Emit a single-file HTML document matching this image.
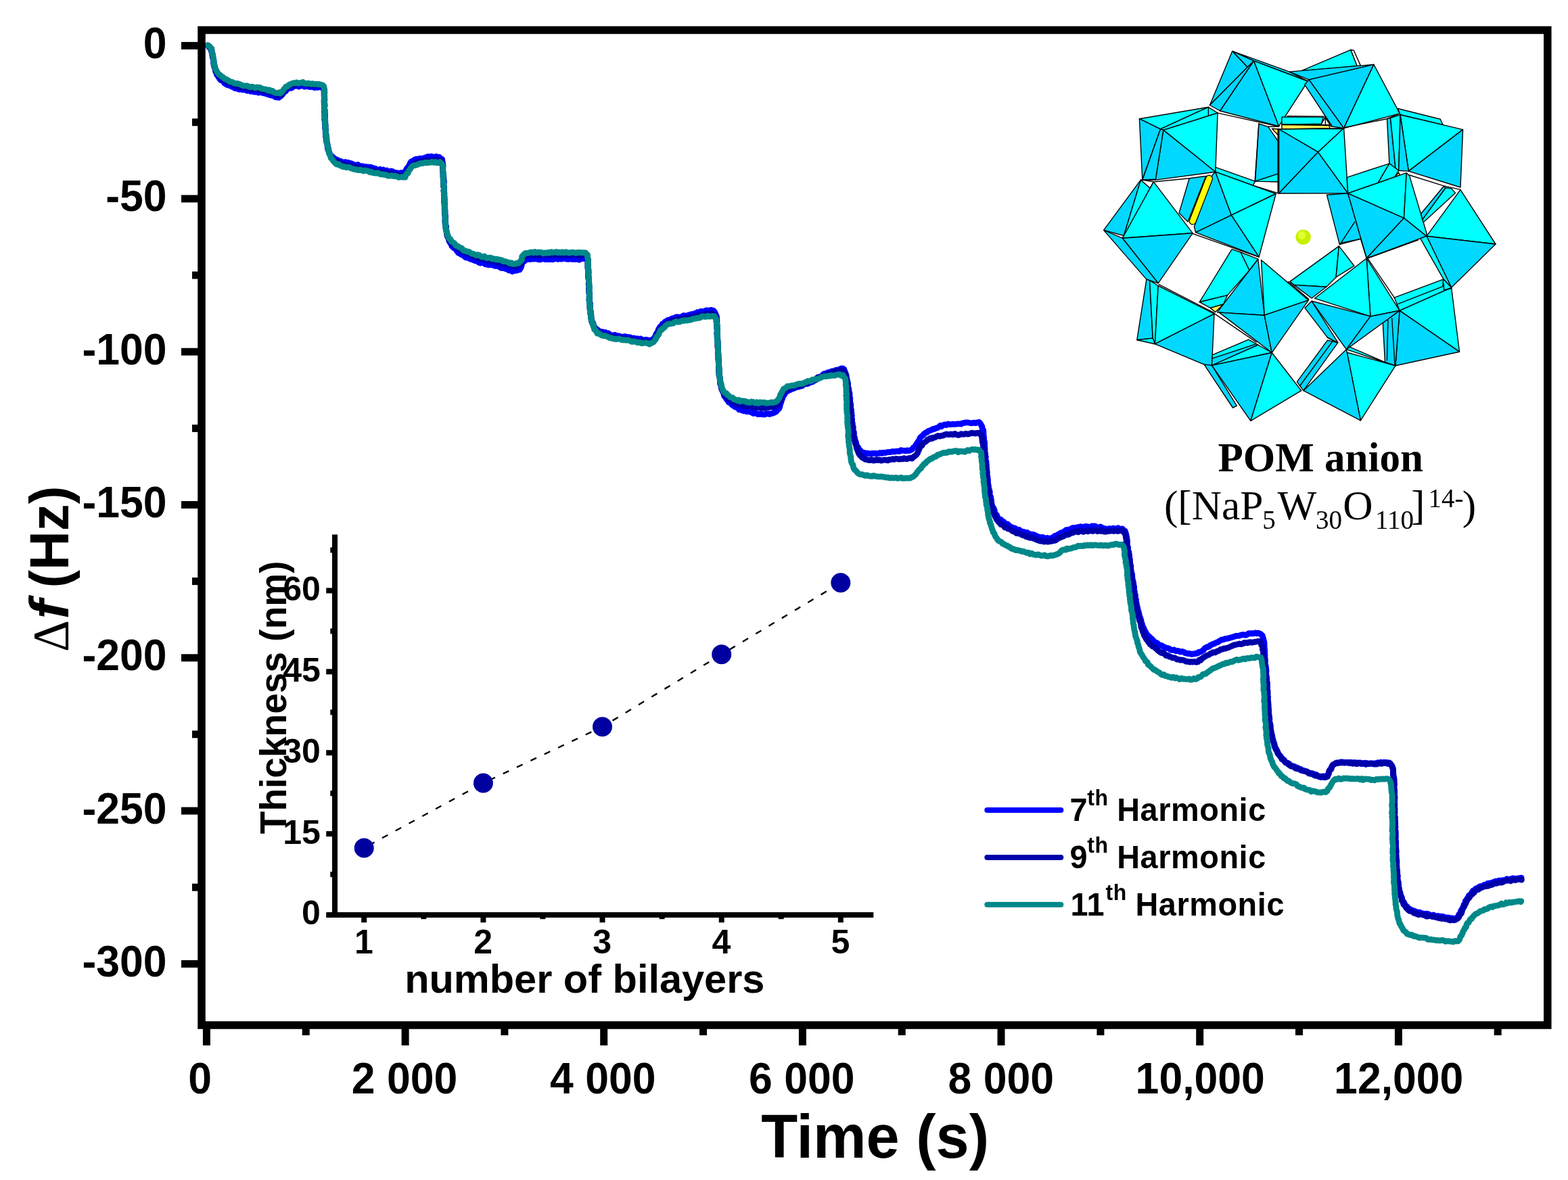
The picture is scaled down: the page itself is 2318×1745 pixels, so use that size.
<!DOCTYPE html>
<html lang="en"><head><meta charset="utf-8"><title>QCM frequency shift</title>
<style>html,body{margin:0;padding:0;background:#fff}body{width:2318px;height:1745px;overflow:hidden}svg{display:block}text{font-family:"Liberation Sans", sans-serif;font-weight:bold;fill:#000}.ser{font-family:"Liberation Serif", serif;font-weight:normal}.serb{font-family:"Liberation Serif", serif;font-weight:bold}</style>
</head><body>
<svg width="2318" height="1745" viewBox="0 0 2318 1745">
<rect width="2318" height="1745" fill="#fff"/>
<g fill="none" stroke-width="8.8" stroke-linejoin="round" stroke-linecap="round">
<path stroke="#0000ff" d="M307.0 67.0L309.2 68.4L310.7 70.7L311.5 73.0L312.3 75.1L312.9 76.7L313.6 80.6L313.7 81.7L314.7 85.5L315.0 86.8L315.8 88.5L316.1 91.3L315.7 93.4L316.3 97.1L316.8 99.0L317.8 100.9L318.3 102.6L318.5 105.2L319.9 107.9L320.5 110.4L321.8 111.9L323.5 114.7L324.5 116.3L326.4 118.6L328.4 119.1L330.5 120.3L331.8 123.1L333.5 123.9L335.5 125.4L338.4 126.3L340.7 126.8L342.7 128.2L344.9 128.8L347.4 130.5L349.3 130.6L351.2 131.3L354.2 132.4L356.7 131.5L358.6 132.8L360.6 132.9L363.1 132.6L365.3 134.3L367.8 133.6L370.4 135.2L372.5 134.7L375.3 135.9L378.0 136.2L379.8 135.7L382.3 137.1L385.2 136.1L386.8 136.8L389.2 137.8L391.8 137.9L393.6 138.8L396.3 139.7L399.2 140.5L401.1 141.1L403.5 140.7L406.0 143.0L408.2 143.8L410.1 143.6L412.2 144.3L414.4 142.5L416.3 141.1L418.0 139.0L419.0 137.2L420.5 135.7L422.1 135.0L424.5 132.0L426.1 131.0L428.3 129.4L431.0 130.3L432.9 128.6L434.9 127.3L437.5 127.2L440.4 126.7L442.0 128.1L444.9 126.4L447.3 126.1L449.7 128.1L452.4 127.8L454.2 127.3L456.5 128.4L459.2 128.7L461.4 127.8L464.3 129.5L466.7 129.3L469.1 129.3L470.9 129.1L473.4 128.4L475.4 129.1L477.8 130.8L479.4 132.5L479.7 136.0L479.8 137.1L479.2 139.2L479.1 141.6L479.5 145.4L479.8 146.9L479.6 150.0L479.1 152.1L480.0 154.7L480.0 156.5L479.5 159.6L479.7 162.0L480.4 163.6L479.9 167.1L480.3 167.9L479.7 170.3L480.6 174.0L479.9 176.4L480.8 178.5L480.3 180.7L480.2 182.0L481.2 185.7L480.9 188.6L481.0 190.9L481.6 192.0L481.2 194.5L481.4 197.5L481.6 199.5L481.7 202.9L482.2 204.4L482.8 207.7L482.9 210.1L483.4 211.7L483.8 213.0L484.2 215.7L484.2 219.3L484.9 221.0L486.2 223.4L486.6 225.6L488.0 228.3L488.9 229.8L490.6 231.0L492.9 233.1L494.6 235.0L497.0 235.6L498.9 236.7L501.1 237.9L503.3 238.3L505.6 239.8L508.2 240.3L510.8 239.6L512.7 241.5L515.3 240.4L517.0 241.5L519.3 241.7L521.6 243.0L524.7 244.0L526.4 244.2L529.2 243.5L531.8 245.7L533.5 246.1L536.0 245.7L538.9 246.9L540.5 246.5L543.2 246.8L545.2 247.2L548.1 247.1L550.3 248.4L552.1 248.6L555.1 249.5L556.9 250.8L559.9 251.2L561.6 250.3L563.9 251.7L566.5 250.9L569.0 252.9L571.8 252.0L573.5 253.7L576.3 253.7L578.2 252.8L581.1 253.9L582.9 255.3L585.8 255.4L587.6 255.8L590.0 256.2L592.7 255.5L595.2 257.0L597.3 254.9L599.3 253.5L600.2 251.3L601.3 249.3L602.8 247.5L604.6 245.4L605.5 243.1L606.6 240.8L608.0 238.9L610.2 238.3L611.7 236.9L614.7 235.3L616.9 235.2L618.9 235.4L621.1 234.3L623.8 234.8L625.8 234.0L628.5 233.2L630.6 232.3L632.6 231.5L635.0 232.5L637.6 231.1L639.8 232.4L643.0 232.1L644.8 231.4L647.2 232.0L649.4 232.4L651.6 234.6L653.7 235.7L653.9 238.7L654.4 239.9L654.3 242.3L655.0 244.9L654.7 247.3L654.6 249.2L654.7 251.9L654.7 253.6L655.0 256.4L655.4 259.4L655.7 262.0L655.8 264.9L655.7 266.1L656.4 268.2L656.2 271.6L655.7 274.4L656.6 276.3L656.6 279.1L656.1 280.9L656.5 283.9L656.9 286.3L656.8 288.9L657.0 290.9L656.7 291.9L656.7 295.0L656.7 298.3L657.3 300.3L657.5 302.8L657.4 303.9L657.8 307.8L657.6 309.7L657.8 311.2L657.9 314.0L657.3 316.4L658.1 318.7L658.2 322.6L658.1 323.8L658.2 326.8L658.6 329.1L658.8 330.4L658.5 333.1L659.4 335.6L659.5 337.4L659.4 340.3L660.4 343.5L660.8 345.1L661.2 347.8L661.8 349.4L662.9 351.8L663.9 355.5L664.0 356.7L666.0 359.8L666.8 360.5L667.9 363.8L669.4 365.0L670.8 366.8L673.2 367.8L674.7 370.3L676.5 372.3L677.7 374.3L679.9 373.9L681.4 376.2L683.9 377.0L685.7 378.3L688.0 380.4L689.9 381.2L692.9 381.0L695.2 383.2L697.3 383.3L699.1 384.3L701.9 385.5L703.6 385.9L705.8 385.9L707.9 388.1L710.4 389.0L712.7 388.3L715.3 388.7L717.5 390.8L720.3 391.1L722.4 391.8L725.1 391.6L727.2 391.1L729.5 392.5L731.9 393.4L733.7 392.9L736.7 393.7L738.5 394.8L740.7 396.3L743.6 396.0L745.6 396.8L747.8 397.6L749.8 397.7L752.1 399.9L754.7 399.3L757.4 401.5L759.3 400.3L761.4 400.4L763.9 400.0L765.9 399.3L768.0 399.0L769.8 396.2L770.6 394.3L771.3 391.7L771.8 389.3L773.9 386.9L775.1 386.2L777.5 384.1L779.1 383.3L781.6 383.1L784.5 383.6L786.8 381.8L788.4 383.2L791.7 382.8L793.7 382.0L795.9 383.9L798.8 383.9L801.3 382.8L802.9 382.6L805.7 383.6L808.5 383.7L810.6 383.7L812.8 383.2L814.8 383.6L817.4 383.8L820.2 382.6L822.1 382.5L825.0 383.4L826.9 382.1L829.7 383.2L831.9 382.5L834.5 382.1L836.6 383.0L839.7 383.4L842.0 383.1L843.8 382.7L846.9 383.6L848.7 382.3L851.2 383.6L853.6 382.8L856.2 384.2L858.2 382.3L860.7 382.7L863.4 381.9L865.9 382.9L867.5 383.2L868.9 385.6L869.1 387.8L868.7 391.2L868.8 394.0L869.2 394.9L869.1 397.7L869.7 401.2L869.4 402.5L869.6 406.0L869.6 406.6L869.6 409.7L870.5 413.1L870.5 415.7L870.7 416.7L870.1 420.4L870.8 420.9L870.8 424.0L870.6 426.3L870.5 428.1L870.7 431.2L871.5 433.1L871.6 435.7L871.0 439.3L871.6 440.9L870.9 443.4L871.4 446.7L871.3 448.0L872.2 449.7L871.9 453.7L872.5 454.5L872.0 456.9L873.1 459.7L873.2 463.4L873.1 464.5L874.0 467.6L873.7 470.2L874.2 471.6L874.4 474.9L876.1 477.0L876.9 478.0L877.2 481.1L879.1 484.2L879.9 484.7L881.6 487.0L883.9 487.8L886.0 490.0L888.2 490.9L890.3 490.7L892.3 491.4L895.1 491.5L896.8 493.6L899.2 492.8L901.3 494.4L903.9 495.8L906.8 496.3L908.5 495.1L910.7 496.4L913.7 496.7L915.6 497.0L918.4 497.9L920.9 498.6L923.2 497.5L925.7 498.1L927.8 498.6L930.4 498.6L932.2 499.1L934.5 500.8L937.3 500.0L939.5 501.7L942.0 500.6L944.7 501.8L947.2 500.9L949.1 502.7L951.8 503.2L953.4 502.3L955.9 502.4L959.1 503.4L961.5 503.0L963.7 502.7L965.2 502.2L967.5 499.1L968.5 498.1L969.4 495.6L970.5 493.2L971.6 491.8L973.1 488.8L973.5 486.9L975.3 484.5L976.3 482.6L978.4 481.5L979.3 478.8L981.4 478.1L983.5 475.6L984.9 475.4L987.2 473.4L989.3 473.6L991.5 472.0L993.8 470.9L996.6 471.4L998.5 469.2L1001.1 468.6L1002.8 469.5L1005.5 468.8L1007.9 468.5L1010.3 466.6L1012.2 467.0L1015.2 467.3L1017.0 466.3L1019.6 465.6L1021.7 464.6L1024.4 465.2L1026.3 463.7L1029.3 464.0L1031.0 461.6L1034.1 462.7L1036.0 460.4L1038.8 460.6L1041.1 460.6L1043.4 459.2L1045.7 458.9L1047.7 459.8L1050.5 458.3L1052.3 458.8L1054.9 459.5L1056.2 460.9L1057.9 464.3L1058.0 465.9L1059.2 467.2L1059.7 469.7L1059.7 473.0L1059.9 474.9L1059.8 477.8L1059.9 480.4L1060.0 482.3L1059.7 485.1L1060.2 486.7L1060.5 490.2L1060.3 491.4L1060.3 493.7L1060.1 496.7L1060.1 499.1L1060.7 500.7L1060.9 503.2L1061.1 507.0L1061.0 508.0L1061.1 511.0L1061.7 512.9L1061.7 517.0L1061.6 519.1L1061.2 521.8L1061.6 524.1L1062.1 525.0L1062.1 528.9L1061.5 530.1L1062.3 532.1L1062.6 534.8L1062.7 536.9L1062.5 540.8L1062.4 541.9L1062.8 544.4L1062.5 546.6L1062.8 550.5L1063.5 552.8L1063.1 554.9L1063.3 556.8L1064.1 558.9L1064.6 561.6L1064.6 564.7L1064.5 567.3L1065.5 568.4L1066.2 570.5L1066.9 573.5L1066.9 576.2L1067.7 577.3L1068.8 579.3L1069.8 581.9L1070.6 585.6L1071.7 587.0L1072.7 587.7L1073.8 590.0L1075.9 592.4L1077.4 595.1L1078.8 595.5L1081.1 596.6L1082.3 598.8L1084.4 600.1L1086.6 601.9L1089.0 602.3L1091.2 604.0L1092.8 605.9L1095.2 605.3L1097.3 607.0L1100.4 607.9L1102.2 607.4L1104.2 608.7L1107.1 608.6L1109.5 609.3L1112.2 610.4L1113.8 611.4L1115.9 611.2L1118.6 611.1L1120.6 612.7L1123.0 612.6L1126.3 611.9L1127.9 612.9L1130.6 612.9L1133.3 611.7L1135.2 611.7L1137.3 612.5L1140.4 611.6L1142.0 611.3L1145.0 609.9L1147.2 609.0L1148.7 607.0L1150.3 605.1L1151.5 604.4L1152.6 602.3L1153.3 598.8L1153.8 596.9L1154.8 594.8L1155.1 592.7L1156.6 589.6L1157.3 586.9L1157.6 585.2L1159.2 584.5L1160.6 581.3L1162.3 579.5L1163.5 579.1L1165.8 577.3L1168.0 576.7L1170.0 575.5L1172.5 574.8L1174.5 573.9L1177.0 572.4L1178.9 572.3L1181.1 572.2L1183.4 569.6L1185.6 570.7L1188.2 568.3L1190.1 567.3L1193.0 567.7L1195.3 567.0L1196.9 565.8L1199.3 565.3L1201.9 564.3L1203.2 563.1L1206.1 562.0L1207.4 559.2L1209.4 557.6L1212.2 557.9L1214.0 556.7L1216.2 554.5L1217.8 553.1L1220.6 552.3L1222.4 551.8L1224.4 550.6L1226.9 550.7L1229.2 549.1L1232.1 548.7L1234.3 548.3L1235.8 547.2L1238.5 547.2L1240.7 546.4L1243.2 544.9L1245.9 544.8L1247.9 546.1L1248.4 548.2L1250.1 551.9L1250.0 553.2L1251.2 556.2L1251.4 557.9L1252.0 560.9L1252.4 563.5L1252.8 564.4L1253.6 567.4L1253.4 570.0L1253.7 572.7L1254.7 575.1L1254.9 576.6L1255.0 579.0L1255.8 580.8L1256.1 583.0L1255.8 585.9L1256.8 588.8L1256.6 591.9L1256.7 593.4L1257.3 596.4L1257.8 598.6L1257.6 600.3L1257.7 603.7L1258.4 605.9L1258.1 607.7L1258.9 610.4L1258.5 612.5L1259.4 614.5L1258.9 617.0L1259.7 620.5L1259.4 621.5L1259.7 624.2L1260.3 626.3L1260.4 628.7L1261.4 632.2L1260.8 635.0L1261.2 636.2L1262.4 639.4L1262.5 641.1L1262.3 643.9L1262.7 645.4L1263.5 647.4L1264.1 651.2L1265.0 652.9L1265.7 655.1L1266.0 657.7L1267.2 660.2L1268.7 661.7L1269.6 664.4L1271.0 665.2L1273.1 668.0L1275.3 668.8L1277.6 669.7L1279.7 669.8L1281.7 670.7L1283.9 670.5L1287.0 671.2L1289.2 670.3L1291.4 670.6L1294.0 670.4L1296.5 671.2L1298.3 670.4L1301.3 669.6L1303.4 670.5L1305.4 669.4L1307.9 669.7L1311.0 668.9L1312.6 668.7L1315.4 668.6L1317.7 668.1L1320.4 667.6L1322.4 668.1L1324.6 667.3L1327.2 667.3L1329.3 667.6L1331.9 665.7L1334.2 666.4L1336.4 666.4L1339.2 666.9L1341.5 665.9L1343.8 666.5L1346.8 665.4L1348.2 664.8L1350.1 662.1L1351.4 661.3L1353.4 659.1L1354.4 657.0L1355.6 655.8L1357.0 653.1L1358.7 651.4L1359.7 648.4L1361.3 646.2L1363.2 644.9L1364.9 643.0L1366.3 641.4L1368.3 639.9L1369.9 639.7L1372.2 637.5L1374.3 636.8L1376.6 636.1L1379.0 634.5L1381.4 634.5L1382.8 633.5L1385.9 632.5L1387.4 631.8L1390.1 629.4L1391.8 630.6L1394.8 628.5L1396.5 627.8L1399.0 628.5L1401.5 626.9L1404.4 627.7L1406.1 627.7L1408.9 627.2L1411.4 627.3L1413.9 627.1L1415.7 626.8L1418.4 626.9L1420.7 627.1L1423.2 625.7L1425.3 625.3L1428.0 624.9L1430.3 624.8L1432.7 625.3L1435.2 625.8L1437.0 625.7L1439.9 625.1L1442.5 625.7L1444.6 624.8L1447.6 624.4L1449.4 626.4L1450.3 628.2L1451.9 631.0L1452.1 633.5L1452.8 634.8L1453.7 636.3L1453.9 639.8L1453.9 642.7L1454.2 644.3L1454.6 647.3L1454.5 649.0L1454.9 651.6L1455.5 653.5L1455.7 656.1L1455.6 658.2L1455.8 662.0L1456.1 664.0L1455.9 665.5L1456.1 668.4L1456.7 671.2L1456.3 673.5L1457.4 675.5L1456.8 677.4L1456.9 679.6L1458.0 682.8L1458.0 685.6L1458.4 687.6L1458.4 690.0L1458.6 692.3L1458.8 694.0L1459.0 696.8L1459.4 698.5L1459.0 700.8L1459.8 704.9L1460.0 706.2L1460.4 709.4L1460.4 710.8L1460.5 713.5L1460.8 715.9L1461.5 719.3L1461.3 720.9L1461.6 722.4L1462.8 725.6L1463.3 727.8L1462.8 730.0L1463.8 733.5L1464.7 734.9L1464.6 736.5L1465.4 739.1L1465.4 741.0L1465.9 744.7L1466.7 747.5L1467.3 749.6L1468.1 750.2L1469.5 752.9L1470.3 755.1L1470.6 758.5L1472.2 760.8L1473.4 761.4L1474.6 764.6L1476.0 766.9L1477.5 768.7L1479.7 768.4L1480.9 771.1L1483.7 771.3L1485.2 773.9L1487.1 775.4L1489.5 775.0L1491.5 777.2L1493.7 778.5L1495.6 779.8L1498.0 780.5L1500.4 781.0L1502.4 782.7L1505.2 783.6L1507.0 783.5L1508.8 785.7L1511.7 786.2L1513.6 786.6L1516.5 787.8L1518.4 787.5L1520.5 789.4L1522.7 789.7L1525.3 790.9L1527.7 790.4L1529.2 791.1L1531.9 792.4L1534.6 793.7L1536.2 794.3L1539.3 794.9L1541.4 794.3L1544.0 795.9L1546.1 796.6L1548.2 795.4L1550.8 796.9L1552.8 796.6L1555.8 794.8L1557.6 794.6L1559.5 792.4L1561.4 792.2L1564.0 790.5L1565.4 790.1L1568.2 787.8L1570.1 788.0L1572.6 786.2L1574.4 785.3L1576.3 783.6L1578.6 783.9L1581.0 782.9L1583.4 782.1L1585.5 780.6L1588.7 780.7L1590.1 780.8L1593.2 779.4L1595.4 779.5L1597.7 778.6L1599.6 780.3L1602.8 779.1L1604.9 778.5L1607.5 778.7L1610.1 779.3L1612.3 779.7L1614.2 777.8L1616.5 778.2L1618.8 778.0L1621.7 779.8L1624.0 780.2L1626.8 778.9L1628.8 780.1L1630.7 781.7L1633.1 781.5L1635.9 782.7L1638.3 782.0L1640.5 781.6L1643.4 783.2L1645.0 781.2L1647.4 781.6L1650.5 782.5L1652.8 780.8L1655.2 782.0L1657.4 782.9L1659.1 781.9L1661.9 784.6L1663.3 785.2L1664.2 788.3L1664.5 789.7L1665.0 791.6L1665.6 794.1L1665.6 796.4L1666.3 798.6L1666.5 801.3L1666.2 805.2L1666.7 807.6L1667.7 809.8L1667.4 811.3L1667.8 814.6L1668.9 816.4L1668.9 818.2L1669.6 820.9L1669.7 822.6L1669.7 824.8L1670.5 828.1L1670.3 831.2L1670.7 832.6L1670.9 834.7L1671.9 837.2L1671.6 839.9L1672.1 843.1L1672.3 845.6L1672.5 847.8L1673.5 848.8L1673.7 851.4L1673.8 853.6L1674.2 857.5L1675.2 859.8L1674.6 860.9L1675.8 862.8L1675.9 865.6L1676.6 867.5L1676.7 870.5L1676.4 872.2L1677.5 875.6L1677.3 877.8L1678.4 879.7L1678.5 881.9L1678.5 885.5L1679.5 886.7L1679.3 888.9L1680.2 892.1L1680.3 893.8L1681.1 897.2L1681.8 899.3L1681.7 900.6L1682.8 903.6L1683.3 905.3L1684.0 908.1L1684.7 911.5L1685.0 912.1L1686.2 915.3L1686.9 917.2L1687.0 920.6L1687.9 921.5L1688.8 924.6L1689.4 926.7L1690.8 928.9L1691.5 931.4L1693.3 933.9L1694.0 935.6L1695.4 937.7L1696.4 940.0L1698.8 941.1L1699.9 943.0L1701.5 943.7L1703.7 945.8L1704.8 947.0L1706.8 949.9L1708.6 949.8L1711.3 951.3L1712.7 953.3L1715.3 954.3L1717.6 954.6L1719.9 956.9L1721.3 956.7L1723.9 958.3L1726.0 958.4L1728.4 959.2L1730.9 961.3L1732.8 961.3L1735.7 960.9L1738.2 962.9L1740.1 962.3L1742.9 962.9L1744.8 964.1L1747.6 963.4L1749.4 963.9L1751.9 965.7L1754.6 966.1L1756.9 966.6L1758.5 966.4L1761.8 967.7L1763.5 966.9L1766.2 966.9L1768.5 965.9L1770.7 966.0L1772.3 964.1L1775.3 964.0L1777.2 962.4L1779.1 961.5L1781.1 958.4L1782.9 957.6L1785.1 956.5L1787.0 956.6L1789.2 954.2L1791.3 953.4L1793.8 952.1L1795.4 951.8L1797.3 950.6L1800.4 949.5L1801.9 948.5L1804.4 946.9L1806.2 946.0L1808.6 945.8L1810.9 944.6L1813.0 944.5L1816.0 943.9L1818.1 943.3L1820.0 942.8L1822.6 941.9L1825.1 941.2L1827.1 940.3L1829.4 940.4L1831.9 940.2L1833.9 939.3L1837.1 938.6L1839.2 938.7L1841.3 939.3L1843.7 938.4L1845.9 936.6L1849.0 937.0L1850.5 936.5L1853.3 937.0L1855.4 935.8L1858.6 936.8L1860.2 936.0L1862.8 937.0L1865.0 938.8L1866.4 940.1L1867.0 942.9L1867.6 944.7L1868.1 947.5L1868.7 948.7L1869.0 950.8L1869.1 954.4L1869.1 957.5L1869.3 958.8L1869.7 962.1L1869.7 963.5L1869.6 966.1L1870.0 968.1L1869.8 971.1L1870.0 973.0L1870.5 976.4L1870.4 978.0L1870.3 980.1L1870.4 983.1L1871.1 984.5L1871.6 987.4L1871.8 990.8L1872.1 991.9L1871.7 995.7L1871.5 996.4L1872.3 999.7L1872.8 1002.6L1872.6 1005.5L1872.7 1006.9L1873.0 1009.0L1872.8 1011.8L1873.0 1014.9L1873.4 1016.5L1873.0 1018.6L1873.4 1021.4L1873.7 1024.4L1874.2 1026.0L1873.8 1028.7L1874.5 1030.5L1874.1 1033.8L1873.9 1035.2L1874.9 1038.7L1874.6 1039.6L1875.1 1043.2L1875.2 1046.2L1875.5 1047.4L1875.0 1049.6L1875.5 1052.4L1875.4 1054.1L1876.1 1057.3L1876.1 1060.5L1876.6 1061.0L1876.6 1064.9L1876.8 1067.1L1876.7 1068.7L1877.9 1071.6L1878.0 1073.2L1878.2 1076.3L1878.3 1078.9L1879.0 1081.9L1879.5 1083.1L1879.5 1085.0L1880.6 1087.2L1880.5 1089.7L1881.4 1093.3L1882.1 1095.6L1882.2 1096.4L1883.6 1099.3L1884.3 1101.6L1884.6 1103.7L1885.5 1107.2L1887.0 1108.2L1887.9 1110.5L1888.6 1113.6L1890.4 1115.8L1891.6 1117.1L1892.8 1117.9L1895.0 1121.4L1896.0 1123.2L1898.2 1123.7L1899.8 1126.6L1901.6 1128.0L1903.3 1128.3L1905.8 1129.3L1907.4 1131.9L1909.7 1132.9L1911.6 1132.8L1913.8 1133.8L1916.6 1135.0L1918.4 1135.6L1920.6 1137.1L1922.7 1137.3L1924.7 1139.7L1927.2 1139.4L1929.2 1140.4L1931.5 1140.7L1934.2 1142.1L1936.0 1143.6L1938.2 1143.5L1941.2 1144.0L1943.1 1146.1L1945.7 1145.5L1947.6 1147.5L1949.8 1148.7L1952.0 1149.2L1954.7 1148.0L1957.1 1147.9L1959.7 1148.0L1962.1 1147.8L1963.1 1145.4L1964.2 1143.0L1965.2 1140.6L1965.8 1139.2L1966.7 1137.6L1968.0 1135.3L1969.5 1132.6L1970.8 1130.3L1972.4 1130.2L1974.7 1128.8L1976.9 1128.1L1979.5 1127.8L1981.9 1126.8L1984.3 1127.0L1986.5 1128.0L1989.0 1127.3L1992.1 1128.1L1994.4 1128.4L1996.1 1127.3L1998.4 1128.2L2001.4 1127.7L2003.5 1128.4L2006.2 1127.8L2008.8 1128.1L2011.0 1127.9L2012.8 1129.5L2015.8 1129.2L2017.5 1128.1L2020.1 1128.6L2022.6 1129.1L2024.7 1129.1L2027.7 1128.8L2030.3 1129.5L2032.6 1128.7L2034.7 1129.3L2037.0 1127.6L2039.9 1128.9L2041.7 1127.1L2044.7 1128.1L2046.3 1127.2L2048.7 1128.4L2051.2 1128.9L2054.0 1127.9L2056.0 1129.7L2057.6 1132.4L2058.1 1133.1L2059.3 1136.1L2059.6 1139.0L2059.6 1141.7L2059.7 1143.3L2059.4 1146.2L2060.0 1148.2L2060.8 1149.8L2060.8 1152.0L2061.0 1156.0L2060.7 1157.8L2061.5 1160.4L2061.2 1162.0L2060.8 1164.6L2061.2 1166.7L2061.1 1169.0L2061.6 1172.5L2061.2 1174.0L2061.5 1176.8L2061.9 1179.0L2061.3 1182.5L2061.2 1184.3L2061.4 1187.2L2061.6 1189.5L2061.3 1191.7L2061.8 1193.7L2062.0 1196.8L2061.4 1198.1L2061.7 1200.3L2061.5 1202.9L2061.7 1206.1L2062.0 1207.3L2061.9 1210.5L2062.1 1212.3L2061.8 1214.3L2062.8 1218.2L2062.0 1220.6L2063.0 1222.6L2062.2 1224.9L2062.5 1226.7L2062.7 1228.7L2063.2 1232.4L2063.0 1235.4L2063.1 1236.4L2062.7 1238.6L2062.6 1242.3L2063.5 1243.7L2062.9 1246.8L2063.7 1249.8L2063.1 1251.9L2063.9 1254.2L2063.5 1255.5L2064.1 1258.1L2063.7 1261.0L2063.8 1264.0L2063.8 1264.8L2064.2 1268.3L2064.6 1270.9L2064.8 1273.8L2064.5 1275.3L2064.2 1277.3L2064.8 1279.2L2065.0 1281.8L2064.9 1285.8L2064.7 1286.3L2065.2 1289.0L2065.7 1291.1L2066.0 1295.2L2066.2 1296.7L2065.9 1299.5L2066.4 1301.4L2066.6 1303.9L2067.2 1307.0L2067.8 1308.1L2067.5 1311.0L2068.2 1313.2L2068.3 1315.0L2068.9 1318.1L2070.1 1321.3L2070.6 1323.8L2071.5 1325.4L2072.1 1326.5L2072.8 1329.8L2073.4 1332.0L2075.1 1333.9L2076.1 1335.6L2077.1 1338.8L2078.4 1339.2L2080.7 1341.4L2082.0 1343.3L2084.3 1344.5L2086.4 1345.6L2088.7 1346.4L2090.4 1346.9L2093.5 1348.5L2095.0 1349.8L2097.5 1348.8L2100.1 1349.7L2102.4 1350.7L2104.5 1351.2L2106.7 1351.6L2109.6 1351.2L2111.7 1351.7L2114.1 1353.7L2116.6 1353.8L2119.2 1353.0L2121.8 1354.7L2123.2 1355.3L2125.9 1354.3L2128.8 1355.5L2131.0 1355.0L2133.4 1355.3L2135.2 1356.3L2137.4 1357.1L2140.0 1356.8L2142.8 1357.3L2145.4 1357.8L2147.8 1357.9L2150.2 1358.7L2151.8 1358.1L2154.0 1356.9L2156.0 1355.2L2156.7 1352.3L2158.5 1351.3L2159.5 1347.4L2160.6 1345.4L2161.6 1344.7L2162.2 1342.8L2163.8 1339.2L2164.3 1337.4L2166.0 1335.5L2166.3 1332.2L2167.4 1331.7L2168.7 1329.1L2170.1 1327.3L2171.5 1324.3L2173.4 1323.1L2174.7 1321.8L2176.6 1318.4L2177.7 1317.0L2179.6 1316.9L2181.9 1313.8L2183.3 1314.1L2185.9 1312.1L2187.9 1310.7L2190.5 1310.2L2192.8 1309.8L2194.2 1308.4L2196.6 1308.7L2199.3 1306.3L2201.1 1306.2L2203.7 1306.0L2206.0 1304.9L2207.9 1304.8L2210.6 1303.2L2213.1 1304.6L2215.0 1302.4L2218.0 1302.1L2219.9 1302.1L2222.3 1301.7L2224.9 1302.0L2227.7 1299.6L2229.6 1300.6L2232.3 1300.2L2234.4 1299.6L2236.5 1298.6L2239.4 1299.6L2241.9 1299.1L2243.7 1299.1L2246.5 1298.5L2248.8 1298.1L2249.1 1298.2"/>
<path stroke="#0000aa" d="M307.1 67.1L308.8 69.5L310.4 70.4L312.6 71.6L313.0 74.9L313.0 76.8L314.0 79.3L314.5 81.1L314.4 83.3L315.1 87.3L315.6 89.4L315.8 91.7L315.9 93.2L317.0 96.4L317.3 97.4L317.8 100.0L318.5 103.5L319.1 105.9L320.8 106.5L321.4 109.4L322.5 111.2L325.0 112.3L326.5 114.0L328.3 117.0L329.9 116.7L331.8 119.1L333.7 119.5L336.3 122.3L338.4 122.3L340.8 122.7L342.9 123.8L345.2 126.2L346.9 126.1L349.8 126.0L351.8 128.3L354.9 127.1L356.9 129.2L358.8 129.1L360.9 129.0L363.9 129.9L366.4 129.3L368.3 131.2L371.0 130.7L373.2 132.1L375.7 130.5L378.3 131.5L380.3 131.6L382.7 132.3L384.7 133.4L387.0 134.3L389.3 134.8L392.4 134.8L394.6 134.9L397.0 135.8L398.8 137.5L401.3 137.0L404.0 137.7L406.1 138.1L408.5 139.1L410.1 141.1L412.6 141.2L415.6 139.7L416.4 137.0L418.2 135.9L419.9 135.0L421.2 131.5L423.1 129.9L424.6 129.2L427.2 127.0L429.1 127.2L431.7 125.8L434.1 124.8L436.3 125.5L438.9 124.6L440.5 123.4L443.3 123.5L445.8 123.2L448.3 123.5L450.0 123.6L452.8 124.5L455.1 124.0L457.6 125.8L460.0 126.1L461.9 126.4L465.2 125.6L467.2 125.7L470.0 124.9L472.1 126.1L474.1 126.9L476.9 126.2L478.5 128.6L479.0 131.2L478.8 133.5L479.2 136.5L479.1 138.8L479.6 140.8L479.8 142.0L479.5 145.5L479.6 147.5L479.1 149.5L479.7 151.9L479.3 154.6L479.8 157.4L479.4 160.3L479.8 162.7L479.5 165.4L480.1 167.9L480.6 170.0L479.8 171.4L480.0 174.7L480.0 175.9L480.0 178.1L481.0 182.2L480.6 184.2L480.8 186.1L480.9 188.8L480.9 190.4L481.4 192.7L481.5 196.5L481.3 197.3L482.3 199.6L482.0 203.5L482.7 204.7L482.4 207.1L483.0 210.6L484.0 212.9L484.4 215.6L484.8 217.9L485.3 218.6L485.2 221.3L486.1 224.1L486.6 227.0L487.6 228.0L488.5 230.6L490.1 232.9L491.4 234.1L493.0 236.1L494.6 238.1L496.6 239.7L499.2 239.7L501.4 241.0L503.5 242.3L506.1 243.5L508.4 242.8L510.5 243.6L512.3 244.5L515.1 245.7L517.3 246.1L519.9 245.1L522.4 246.0L524.6 246.1L526.4 248.3L528.8 247.3L531.3 247.7L534.3 250.0L536.4 249.3L539.0 250.0L540.6 250.8L543.2 250.4L545.5 251.1L547.7 252.0L550.8 252.4L552.3 253.1L554.7 253.1L557.9 254.0L560.3 254.5L562.0 253.8L564.5 255.3L566.7 255.0L569.5 255.5L571.8 256.3L574.5 255.7L576.1 257.6L578.9 256.6L580.8 257.2L583.5 259.0L585.6 257.9L588.4 258.6L591.0 260.2L593.4 260.0L595.4 258.9L598.0 259.0L599.4 257.9L601.3 255.7L602.5 254.5L603.0 251.3L605.2 250.2L606.6 247.0L607.6 246.6L609.3 244.4L611.8 242.1L613.0 242.4L615.8 240.3L618.4 239.9L620.0 239.4L622.3 239.1L625.4 238.7L627.9 237.5L629.5 237.3L632.3 237.1L634.7 237.5L637.1 237.9L639.7 237.9L641.4 236.8L644.6 236.9L646.3 237.2L648.6 238.1L651.4 237.3L653.4 239.8L653.7 242.1L654.9 243.9L654.3 246.0L654.5 249.1L654.8 252.1L654.8 252.9L655.1 255.5L655.0 258.1L654.9 261.3L655.8 263.2L655.7 265.5L656.1 268.3L655.4 271.1L655.7 272.1L655.6 276.1L656.4 277.5L656.4 280.6L656.0 283.0L656.7 285.9L656.2 287.5L656.7 290.5L656.7 292.5L657.3 294.3L657.0 297.8L656.7 300.3L657.0 301.7L657.1 304.8L657.5 307.1L657.1 309.7L657.9 311.7L657.3 313.3L657.6 315.3L658.2 318.4L658.3 320.3L658.1 324.0L658.2 325.6L657.8 328.0L658.3 331.4L659.2 333.8L659.5 334.6L658.9 337.3L659.2 339.3L660.2 341.8L660.7 344.5L660.9 348.0L661.6 350.1L662.9 351.9L663.6 354.2L665.7 355.1L666.7 357.9L668.3 359.9L670.1 360.8L671.9 363.3L673.5 364.6L675.5 365.8L676.9 367.2L679.5 369.2L680.8 370.0L683.4 371.3L685.1 372.7L687.8 373.6L690.2 374.7L691.4 375.2L694.3 375.7L696.8 377.9L698.8 377.6L700.3 379.8L703.1 379.7L705.5 381.0L707.6 381.6L709.7 382.6L712.6 381.9L714.7 383.6L716.9 383.7L719.8 384.7L721.5 384.9L724.3 385.3L726.1 385.0L728.8 386.3L731.1 385.3L733.2 387.5L736.2 387.6L737.7 388.6L740.8 388.2L742.8 388.9L744.7 390.4L747.1 389.6L750.2 390.2L752.4 392.3L754.2 392.1L756.4 393.3L759.5 393.9L761.4 393.7L763.7 393.8L765.8 392.0L768.2 390.7L770.2 389.9L770.5 386.4L771.8 384.3L772.6 383.1L774.2 380.6L775.8 380.0L777.5 378.0L780.5 377.3L783.0 376.3L784.5 376.6L787.3 376.5L789.4 376.7L792.5 377.8L794.6 376.5L797.0 376.5L798.9 377.8L801.5 376.6L804.4 376.5L806.2 376.5L809.3 377.6L811.0 376.3L814.1 376.3L816.3 377.4L818.6 376.9L820.8 376.5L823.4 376.2L825.7 376.5L828.0 377.7L830.6 377.2L833.0 376.0L835.6 377.7L837.9 377.0L840.4 377.9L842.3 376.4L844.7 376.1L847.0 376.3L849.2 377.0L851.6 377.2L854.8 377.7L856.4 377.8L859.0 377.8L861.8 377.1L864.0 377.8L866.1 378.2L867.6 378.4L868.3 380.6L869.2 383.2L869.1 385.8L868.9 389.2L869.2 390.6L869.5 392.8L869.0 396.2L870.0 398.8L870.0 401.5L870.3 403.2L869.7 405.6L870.0 408.3L870.0 409.4L869.9 411.9L870.6 415.4L870.5 417.1L870.8 419.7L870.6 421.6L871.2 424.5L870.8 426.4L870.9 429.4L870.9 432.3L870.9 434.5L871.4 435.9L871.6 438.2L871.2 442.1L871.1 443.4L871.6 447.1L872.3 448.0L872.1 451.7L872.2 453.0L872.0 454.9L872.2 457.3L873.1 460.7L872.7 463.8L873.9 465.2L873.6 468.5L874.2 470.6L874.2 472.9L874.9 473.9L875.2 476.6L876.1 478.9L877.6 481.4L877.9 483.0L878.8 485.8L880.5 487.1L882.2 489.4L883.6 491.2L885.9 491.7L888.7 493.1L890.5 494.1L893.2 495.1L895.7 496.0L897.4 497.1L899.4 496.2L901.8 497.2L904.4 497.8L907.0 498.2L909.2 499.3L912.0 500.4L913.8 499.7L916.8 501.0L919.1 499.9L920.8 500.8L923.2 501.2L926.3 501.4L928.2 501.6L930.6 502.4L932.6 501.8L935.6 503.7L937.5 502.8L939.6 504.1L942.5 505.1L945.0 504.7L947.3 505.6L950.0 504.4L951.5 504.7L953.8 506.5L957.1 506.1L959.3 506.6L961.6 506.0L964.3 505.3L965.4 503.5L967.6 503.1L969.1 501.2L969.8 498.3L970.9 497.2L971.7 493.9L973.4 492.4L973.9 489.2L975.3 487.4L977.1 485.1L979.1 484.2L980.6 482.3L982.6 480.3L984.5 479.1L986.2 478.4L988.5 477.2L990.7 475.3L992.8 475.4L995.2 474.0L997.6 473.3L999.3 472.7L1002.6 472.4L1004.6 471.7L1006.9 471.6L1009.3 472.3L1011.7 471.5L1014.1 470.1L1015.8 470.2L1018.6 470.8L1020.5 469.2L1023.3 468.9L1025.2 468.2L1027.5 467.0L1030.6 467.0L1032.8 466.3L1035.2 467.1L1036.8 466.1L1040.1 466.1L1041.7 465.6L1044.7 464.1L1047.0 464.7L1048.9 464.9L1051.9 463.4L1053.9 464.8L1055.6 465.7L1058.0 467.2L1058.5 470.6L1059.5 473.0L1059.0 475.5L1059.6 476.6L1059.6 479.9L1060.1 481.6L1060.1 484.1L1060.2 485.7L1060.4 488.4L1059.8 492.1L1059.9 494.2L1060.7 495.9L1060.6 497.9L1060.3 501.6L1061.0 503.8L1060.8 504.7L1061.2 508.9L1060.9 510.7L1060.8 513.7L1061.5 514.3L1061.6 518.0L1061.4 520.2L1062.0 522.8L1061.7 525.7L1061.9 527.8L1062.0 530.1L1062.3 532.0L1062.1 533.8L1062.5 537.2L1062.4 538.3L1062.9 541.9L1062.9 543.3L1063.3 546.8L1063.4 548.1L1063.0 551.2L1063.0 554.5L1063.3 555.2L1064.2 557.8L1064.3 561.0L1064.3 562.2L1065.2 566.2L1065.8 567.0L1065.9 570.0L1066.2 573.2L1067.7 575.7L1068.6 577.7L1068.9 579.5L1070.6 580.4L1071.0 584.4L1072.5 586.1L1074.3 586.6L1076.0 589.6L1078.1 589.7L1080.1 591.6L1082.1 593.2L1084.3 594.5L1085.9 596.5L1088.7 596.6L1090.5 597.6L1092.9 597.7L1095.5 598.7L1097.9 599.6L1100.1 600.7L1101.9 599.2L1104.6 600.6L1106.7 600.4L1109.0 600.2L1111.6 601.4L1113.9 602.4L1116.3 602.5L1119.0 602.3L1121.1 602.0L1123.7 603.4L1126.4 603.3L1128.8 602.9L1130.7 603.6L1133.3 601.6L1135.9 602.5L1138.3 601.8L1140.4 601.9L1142.8 602.0L1144.9 601.0L1147.7 599.0L1149.6 598.9L1150.8 595.8L1151.9 594.0L1152.5 592.4L1153.8 591.0L1154.7 588.5L1155.6 584.8L1156.3 582.7L1157.5 580.9L1158.8 579.0L1159.9 577.1L1162.8 576.2L1164.7 575.3L1166.7 574.6L1169.4 573.7L1171.6 572.6L1173.4 571.3L1176.0 570.9L1178.1 571.2L1180.5 570.0L1182.9 570.7L1185.3 569.4L1188.0 568.6L1190.2 567.9L1192.3 566.9L1194.7 565.9L1196.3 565.2L1198.3 563.9L1201.3 562.3L1203.0 561.7L1205.3 561.7L1207.2 560.1L1209.0 558.3L1211.6 558.1L1214.2 557.6L1216.0 555.4L1218.6 555.6L1220.8 554.5L1222.9 553.1L1225.1 552.3L1227.6 552.6L1229.5 551.6L1231.6 549.7L1234.0 549.5L1236.5 549.1L1239.3 547.7L1241.6 547.4L1243.4 547.4L1245.9 547.8L1247.4 549.2L1248.7 550.4L1249.7 553.3L1250.9 554.7L1250.8 557.8L1251.4 560.7L1252.5 563.4L1253.0 565.9L1252.6 567.5L1252.8 569.8L1253.7 572.4L1254.3 574.3L1254.0 577.7L1254.7 578.7L1254.6 582.2L1254.5 584.7L1255.6 586.7L1255.1 588.9L1255.5 592.0L1255.8 592.7L1256.3 595.4L1257.0 597.7L1256.5 600.5L1257.0 603.2L1257.8 605.3L1257.9 607.2L1257.7 611.1L1258.3 613.0L1257.7 616.1L1258.2 617.8L1258.2 619.1L1258.7 622.8L1259.4 624.4L1259.1 627.2L1259.6 628.9L1259.6 630.9L1259.9 634.7L1261.1 637.1L1261.1 638.8L1261.1 641.3L1261.5 644.3L1262.5 645.8L1262.3 648.9L1263.4 651.7L1264.0 653.7L1264.4 655.4L1264.9 657.1L1265.9 659.5L1266.4 662.9L1267.2 664.3L1267.7 665.9L1269.0 669.2L1269.5 670.8L1271.1 673.1L1272.7 674.3L1274.8 676.8L1276.8 677.4L1278.9 679.3L1281.6 679.6L1283.2 680.3L1285.9 680.6L1288.4 679.6L1290.8 681.1L1292.8 680.9L1295.3 679.8L1297.5 680.5L1300.1 680.0L1302.6 681.1L1305.2 680.6L1308.0 679.9L1310.4 680.6L1312.6 680.9L1314.4 679.6L1317.2 679.6L1320.0 678.7L1321.7 679.5L1324.6 678.3L1326.2 678.5L1329.1 679.2L1331.5 678.6L1334.2 678.9L1336.4 677.7L1338.9 678.5L1341.1 678.7L1343.7 677.7L1346.2 677.3L1348.4 678.0L1349.8 676.3L1352.4 674.3L1353.4 673.9L1355.0 672.1L1356.5 670.0L1357.8 666.2L1358.6 665.1L1359.5 662.2L1361.2 660.0L1363.1 658.8L1363.9 656.5L1365.1 655.1L1367.4 653.7L1369.5 652.5L1371.1 650.0L1372.9 649.9L1375.7 647.8L1378.0 648.5L1379.6 647.2L1382.6 646.8L1384.4 645.4L1386.6 644.4L1389.4 645.2L1391.5 644.3L1394.5 644.0L1396.1 642.9L1399.2 642.0L1401.2 642.5L1403.3 642.7L1405.8 642.0L1408.7 642.8L1411.2 641.4L1413.5 642.4L1415.6 643.3L1418.0 643.3L1420.7 641.7L1423.1 642.1L1425.2 642.3L1427.7 641.1L1430.0 642.0L1432.1 641.9L1434.7 640.9L1436.8 640.1L1439.3 640.7L1442.3 641.1L1443.9 640.3L1447.1 640.2L1449.3 642.7L1450.8 643.2L1451.6 646.0L1451.7 647.9L1452.0 651.2L1452.3 654.1L1453.2 656.3L1453.5 658.3L1453.5 659.5L1453.7 662.9L1454.8 664.7L1454.7 666.9L1455.1 670.6L1455.5 672.1L1455.9 674.4L1456.3 677.5L1456.3 679.6L1456.3 681.5L1456.5 684.4L1457.2 685.9L1457.1 688.4L1457.1 690.6L1457.9 693.5L1458.1 695.4L1458.2 698.5L1458.6 700.6L1458.2 702.3L1458.9 706.1L1458.4 708.0L1459.3 710.1L1459.0 712.5L1459.7 715.1L1460.0 716.5L1460.2 719.7L1461.0 722.9L1461.3 724.5L1461.6 727.3L1462.1 729.1L1462.3 731.7L1462.4 733.6L1462.6 736.1L1463.5 739.7L1463.6 741.9L1464.7 744.0L1465.0 745.8L1465.6 748.7L1466.6 749.5L1467.3 753.4L1468.0 754.7L1468.2 758.0L1469.6 759.4L1470.1 761.3L1470.8 763.3L1472.1 765.5L1473.6 768.7L1474.9 769.7L1476.2 771.9L1477.9 773.4L1479.7 775.6L1482.2 775.8L1483.6 777.6L1485.7 780.0L1488.0 779.5L1490.0 782.0L1492.6 782.5L1494.8 783.2L1496.3 785.3L1498.8 785.7L1500.5 786.9L1502.8 788.6L1505.8 789.0L1507.7 788.8L1509.4 790.3L1512.0 791.6L1514.8 791.9L1516.9 793.7L1518.6 792.6L1520.8 794.7L1523.5 795.4L1526.2 794.9L1528.1 796.4L1530.3 797.2L1532.7 798.4L1535.0 799.2L1537.1 800.0L1539.7 800.1L1541.9 800.7L1544.2 801.2L1546.9 800.3L1549.0 801.3L1551.0 800.8L1554.0 800.4L1556.2 799.8L1557.9 799.6L1560.6 799.0L1562.4 797.5L1564.8 795.6L1566.7 795.3L1568.4 794.2L1571.0 793.5L1572.8 792.6L1575.5 790.7L1577.2 790.9L1580.0 790.5L1582.7 788.3L1584.6 788.1L1587.1 787.5L1589.3 786.2L1592.0 785.8L1593.9 786.9L1596.0 785.6L1598.8 784.9L1601.1 786.5L1603.2 785.8L1605.9 785.0L1608.3 786.0L1610.3 785.1L1612.9 784.2L1615.3 785.6L1617.8 784.7L1620.7 783.9L1622.7 785.7L1625.6 784.5L1627.3 785.5L1629.8 784.3L1631.9 786.1L1634.7 786.3L1637.3 785.3L1639.3 785.6L1641.8 785.2L1644.1 784.9L1646.5 785.5L1649.0 784.0L1651.5 785.6L1654.2 785.2L1656.5 784.2L1658.8 785.0L1660.5 786.1L1662.6 788.6L1663.4 789.9L1664.2 792.0L1664.4 795.5L1665.3 797.5L1665.1 799.5L1665.0 802.3L1665.8 803.6L1665.9 806.4L1666.9 809.8L1666.7 811.2L1667.2 813.1L1667.5 815.8L1667.8 819.0L1668.0 821.6L1669.0 822.9L1669.0 826.0L1669.9 827.4L1670.0 830.1L1670.3 833.4L1670.3 834.6L1670.6 838.0L1671.2 839.5L1671.2 842.2L1671.3 844.9L1672.5 846.3L1672.0 850.0L1673.0 852.6L1673.1 855.2L1673.8 856.3L1673.7 858.1L1674.2 861.7L1674.6 863.9L1675.3 867.0L1675.0 867.6L1675.2 871.8L1675.7 874.2L1676.5 874.7L1676.7 877.4L1677.0 880.1L1677.2 881.8L1677.5 886.0L1678.2 887.5L1678.4 889.8L1679.5 893.0L1679.3 895.5L1680.3 896.5L1680.1 898.8L1680.7 900.9L1681.6 904.7L1681.9 906.9L1682.9 909.7L1683.1 911.3L1683.8 914.2L1684.4 916.2L1684.9 918.6L1685.7 919.6L1686.5 922.4L1686.8 925.6L1686.9 927.5L1688.2 929.7L1688.8 932.2L1689.5 934.2L1690.7 936.9L1691.4 939.5L1692.4 941.3L1693.5 943.1L1694.8 945.7L1695.9 946.1L1697.2 948.6L1699.1 951.3L1700.6 953.2L1702.1 954.2L1703.4 955.7L1706.1 956.6L1707.8 958.2L1709.5 959.5L1711.6 961.7L1713.6 963.4L1715.4 964.8L1718.2 965.9L1719.7 965.3L1722.3 967.6L1723.8 969.5L1726.1 969.1L1728.8 971.2L1730.4 971.2L1733.1 972.8L1735.6 972.6L1738.0 973.5L1739.5 975.0L1742.3 975.2L1744.6 976.1L1746.9 976.0L1749.0 976.1L1751.2 976.9L1753.5 978.3L1755.8 978.3L1758.7 979.1L1761.2 978.6L1763.1 979.1L1765.4 978.4L1768.6 979.3L1770.9 978.7L1772.7 976.0L1774.9 976.4L1776.4 974.2L1779.1 972.5L1780.7 971.4L1783.3 969.7L1784.7 969.1L1787.1 968.4L1789.7 966.3L1791.2 966.2L1793.1 964.6L1796.2 965.0L1798.0 963.9L1799.9 962.7L1802.6 962.1L1804.3 960.5L1807.3 960.2L1809.3 958.8L1811.9 959.1L1813.5 958.3L1815.9 957.7L1818.2 956.6L1821.2 955.2L1823.1 954.5L1825.0 953.6L1827.5 953.3L1830.3 952.6L1832.3 951.9L1834.3 952.6L1837.3 952.0L1839.5 950.3L1841.7 950.3L1844.4 950.8L1846.4 949.8L1848.4 949.6L1850.8 950.2L1853.2 949.7L1856.1 949.2L1858.2 948.7L1860.7 948.4L1863.3 949.0L1864.2 951.7L1865.0 954.5L1866.0 955.2L1866.8 958.4L1866.4 960.7L1867.5 962.6L1867.7 965.1L1867.4 967.8L1867.9 970.0L1868.6 973.4L1868.4 975.5L1868.9 977.1L1869.0 979.0L1868.7 981.8L1869.3 983.7L1869.9 987.1L1870.1 989.1L1870.6 992.0L1870.9 993.9L1871.0 996.9L1871.3 998.3L1872.0 1001.1L1872.0 1003.1L1872.4 1006.5L1873.2 1009.0L1873.4 1011.5L1873.6 1013.0L1873.0 1015.1L1873.4 1017.5L1873.1 1020.1L1874.2 1021.8L1873.7 1024.4L1873.7 1028.1L1874.1 1030.3L1873.8 1032.1L1874.3 1034.0L1874.3 1036.9L1874.8 1040.4L1874.9 1042.7L1874.8 1043.8L1874.5 1046.0L1875.5 1049.6L1875.6 1050.4L1875.7 1053.0L1875.5 1056.3L1876.1 1059.2L1876.3 1061.7L1876.9 1063.8L1876.4 1065.7L1876.6 1067.7L1877.6 1070.2L1878.1 1073.4L1878.1 1074.8L1878.2 1078.4L1878.9 1080.0L1879.0 1082.3L1879.4 1083.8L1879.9 1088.0L1880.9 1089.3L1881.3 1092.2L1881.3 1094.9L1882.4 1095.4L1883.0 1098.2L1883.8 1102.0L1884.2 1103.7L1885.6 1105.7L1886.2 1108.3L1887.3 1109.8L1888.5 1111.2L1889.9 1115.0L1890.7 1116.1L1891.9 1118.1L1893.3 1119.4L1895.0 1122.8L1897.0 1122.9L1898.7 1125.5L1900.3 1127.7L1902.8 1128.0L1904.5 1130.5L1906.8 1131.6L1908.2 1133.1L1910.7 1132.8L1912.7 1134.2L1914.9 1136.0L1916.6 1136.8L1919.7 1136.5L1921.7 1138.3L1923.8 1139.0L1926.1 1139.4L1927.7 1140.2L1929.9 1140.8L1932.3 1141.5L1935.0 1143.8L1936.9 1144.3L1939.6 1143.9L1941.5 1145.6L1944.3 1147.1L1945.9 1146.9L1948.8 1147.8L1950.7 1147.9L1953.0 1149.3L1955.2 1148.5L1957.7 1149.6L1960.0 1149.5L1962.5 1148.5L1963.7 1145.5L1964.4 1143.9L1964.8 1140.1L1966.1 1138.3L1967.9 1137.7L1968.6 1134.8L1969.6 1132.0L1971.4 1130.8L1973.8 1129.3L1975.7 1127.9L1978.5 1128.5L1980.8 1127.6L1982.9 1128.1L1985.5 1127.2L1987.9 1128.1L1990.0 1127.7L1993.0 1127.3L1995.2 1128.6L1997.3 1127.4L1999.6 1129.3L2002.6 1127.8L2004.7 1129.7L2006.6 1129.7L2009.5 1128.2L2011.5 1129.3L2013.8 1128.7L2016.9 1128.8L2019.2 1130.4L2021.7 1128.9L2023.5 1129.6L2026.1 1129.0L2028.5 1129.2L2031.3 1130.1L2033.1 1129.8L2035.4 1130.1L2038.0 1128.9L2040.5 1128.2L2042.6 1129.4L2045.5 1128.5L2047.2 1128.4L2050.4 1127.5L2052.2 1129.6L2055.0 1129.2L2056.0 1130.7L2057.6 1132.4L2058.6 1135.6L2059.3 1138.2L2059.4 1139.2L2059.3 1142.3L2059.8 1143.8L2060.0 1147.4L2060.3 1150.4L2060.7 1151.1L2061.1 1153.9L2060.6 1156.7L2061.4 1158.8L2060.8 1161.2L2060.7 1163.6L2061.1 1167.1L2061.6 1167.9L2061.4 1171.7L2061.0 1172.9L2061.5 1175.7L2061.8 1178.4L2061.9 1180.8L2061.7 1182.2L2061.6 1185.3L2061.5 1187.6L2061.9 1190.0L2061.5 1193.3L2061.7 1194.9L2061.8 1196.6L2061.9 1199.0L2062.0 1201.8L2061.5 1204.8L2062.1 1207.9L2062.4 1208.8L2061.9 1212.0L2062.6 1214.2L2062.4 1216.4L2062.6 1218.2L2062.2 1221.8L2062.7 1223.8L2062.3 1226.5L2063.1 1228.8L2062.8 1231.8L2063.0 1234.2L2063.0 1236.0L2063.3 1238.8L2063.1 1240.0L2062.8 1242.9L2063.7 1246.2L2063.4 1248.1L2063.2 1249.6L2063.1 1253.0L2063.5 1254.2L2063.8 1257.3L2064.1 1260.5L2063.4 1261.3L2064.0 1264.0L2064.1 1267.9L2064.0 1268.8L2064.5 1271.2L2064.9 1274.9L2064.8 1276.8L2064.4 1279.7L2064.4 1281.8L2064.5 1282.9L2065.5 1287.2L2065.7 1288.4L2065.2 1291.5L2065.4 1294.2L2066.2 1295.2L2065.5 1297.9L2066.1 1301.2L2066.5 1302.8L2067.3 1304.4L2066.7 1306.8L2067.0 1310.9L2068.1 1313.4L2068.0 1315.6L2068.5 1317.2L2069.8 1319.6L2069.5 1321.9L2070.5 1324.2L2071.0 1326.0L2072.2 1327.9L2072.3 1332.0L2073.5 1332.9L2074.4 1335.7L2075.1 1337.8L2077.3 1339.7L2078.7 1342.6L2079.8 1343.1L2081.2 1345.0L2084.0 1347.3L2085.8 1346.8L2088.0 1347.9L2089.9 1350.1L2092.3 1350.9L2094.4 1351.4L2097.1 1352.7L2098.8 1352.2L2101.7 1352.0L2103.8 1353.1L2106.7 1353.5L2108.5 1355.0L2110.6 1355.0L2112.8 1354.5L2116.0 1355.0L2117.6 1355.6L2120.8 1355.8L2123.1 1356.6L2124.8 1356.8L2127.7 1357.9L2129.8 1357.5L2131.7 1358.5L2134.9 1358.1L2136.7 1359.1L2139.5 1358.7L2141.4 1360.3L2144.1 1361.0L2146.2 1360.0L2148.8 1360.8L2151.0 1360.5L2153.2 1359.0L2155.1 1358.3L2156.9 1356.0L2157.6 1353.1L2158.8 1352.3L2160.5 1350.3L2161.5 1347.0L2161.8 1345.2L2163.3 1342.4L2164.5 1341.0L2164.9 1339.1L2166.4 1337.0L2167.1 1335.1L2168.8 1331.8L2169.9 1329.6L2171.1 1328.6L2172.8 1326.6L2173.8 1323.7L2175.7 1322.9L2177.4 1321.4L2179.2 1320.0L2180.9 1317.0L2182.7 1315.7L2185.2 1315.6L2186.6 1314.5L2189.4 1312.8L2191.8 1311.9L2194.0 1311.0L2196.2 1310.5L2198.1 1310.5L2200.6 1310.1L2202.5 1308.6L2205.0 1308.6L2207.8 1307.1L2209.7 1306.2L2211.8 1306.5L2215.0 1305.3L2217.0 1304.9L2219.5 1305.2L2222.0 1304.4L2224.4 1302.7L2226.6 1302.4L2228.6 1301.9L2231.2 1302.0L2233.3 1302.8L2235.7 1301.5L2237.9 1300.6L2240.2 1301.7L2242.9 1300.2L2245.7 1300.3L2247.5 1300.8L2249.4 1301.2"/>
<path stroke="#008888" d="M307.1 67.2L309.6 68.3L311.1 70.1L312.0 72.0L313.2 74.8L313.1 76.2L313.5 79.6L314.6 80.4L315.3 84.6L315.4 86.3L315.3 87.4L316.0 89.9L316.1 92.6L316.5 95.4L317.5 98.5L318.3 100.4L319.0 102.7L319.8 104.2L321.5 107.7L322.7 109.1L323.8 109.9L325.6 111.1L328.0 113.2L330.1 114.5L332.2 116.8L333.3 116.7L336.3 118.4L338.5 119.4L339.8 120.9L342.7 121.1L344.3 122.1L347.4 123.7L348.9 123.3L351.2 123.6L354.2 124.4L356.3 125.4L358.3 126.5L360.6 126.8L362.9 126.8L365.4 126.9L368.5 128.3L370.2 128.8L372.5 128.2L375.5 129.0L377.2 130.0L379.6 128.9L382.5 129.5L384.4 129.5L386.6 131.0L389.0 131.6L391.5 131.9L394.4 132.5L396.4 133.9L398.3 133.0L401.3 135.0L403.0 134.5L405.7 136.8L407.5 137.6L410.5 137.5L412.4 136.8L414.3 138.1L416.4 136.1L418.1 134.6L419.9 131.6L421.0 130.7L422.7 128.1L425.1 127.9L427.2 125.5L429.7 124.4L431.1 123.8L433.8 122.7L435.9 122.9L438.7 122.0L440.8 123.3L443.8 122.6L446.0 122.4L447.8 121.4L450.1 123.3L453.2 123.6L454.9 123.2L457.7 123.6L459.9 124.4L462.1 123.7L465.1 124.5L467.5 124.2L470.0 124.8L471.9 124.5L474.8 125.4L476.6 126.0L478.6 127.4L479.0 129.3L479.3 132.1L478.9 134.6L479.9 137.4L479.6 138.9L479.6 141.6L479.3 144.6L479.0 146.8L479.0 148.9L479.6 150.5L479.9 153.5L479.9 156.7L479.6 157.3L479.7 161.0L479.7 162.4L480.4 165.8L480.0 168.7L480.0 170.6L479.9 172.5L480.6 175.9L480.8 177.2L480.6 179.5L480.3 182.3L481.1 185.4L481.2 187.9L480.9 188.8L481.3 191.4L481.2 194.1L481.8 196.6L481.7 199.7L482.6 201.3L482.0 202.8L483.1 205.2L483.2 208.7L483.2 211.5L483.3 212.6L484.1 214.7L484.9 217.5L484.6 219.5L485.6 222.6L486.3 225.4L487.2 228.2L487.9 229.0L488.6 231.1L489.3 233.9L491.2 235.3L492.2 237.6L494.3 239.7L496.0 241.7L497.8 243.1L500.5 242.7L502.7 244.9L504.2 245.1L507.0 246.7L509.1 246.5L511.9 247.5L514.3 247.4L516.4 247.3L518.8 249.0L521.1 249.3L523.0 250.2L526.1 250.8L528.0 251.0L530.2 251.7L533.0 251.1L534.6 251.8L537.4 252.9L539.7 251.9L542.4 252.5L544.7 253.1L546.6 254.8L548.8 254.0L551.5 255.6L554.2 256.0L556.7 256.1L559.0 255.7L560.7 257.0L563.1 257.8L565.8 257.9L568.4 258.4L570.2 258.4L573.1 259.9L574.8 260.2L578.0 259.9L579.9 259.7L582.3 260.7L584.7 260.1L587.4 261.4L589.3 262.3L591.8 262.0L594.3 261.6L596.5 262.2L599.0 262.1L599.9 259.4L601.0 257.2L603.0 256.2L604.1 253.1L605.1 251.7L607.2 248.7L608.6 246.7L609.9 245.5L612.5 244.6L614.4 244.3L616.4 243.8L618.7 242.8L621.2 241.6L623.8 241.6L626.1 241.2L628.6 240.3L630.6 240.9L633.4 240.4L636.0 240.3L638.4 239.3L640.7 240.4L643.3 239.4L645.1 240.7L647.4 240.9L650.4 239.5L651.9 241.7L653.2 242.5L654.6 245.4L655.0 247.1L654.8 250.6L654.5 252.1L655.2 255.9L655.6 256.7L655.1 260.4L655.2 262.6L655.0 263.8L655.1 266.1L655.7 269.5L655.9 271.1L655.6 273.6L656.4 277.6L656.6 278.2L655.9 282.3L656.4 284.4L656.3 286.2L656.6 288.5L656.8 290.0L657.0 294.1L656.6 295.7L657.3 298.0L656.8 299.9L657.3 302.0L657.7 306.0L657.6 308.5L657.6 310.0L657.7 312.6L658.1 315.6L657.4 318.2L658.0 320.4L658.2 322.0L658.3 325.4L658.3 327.5L658.5 329.2L658.7 330.9L658.6 334.1L658.6 336.2L659.6 339.2L659.6 342.2L660.6 343.3L661.1 346.1L661.8 348.0L663.2 350.7L664.1 353.0L665.7 353.5L667.0 356.7L668.4 357.7L670.0 358.8L672.2 360.1L674.0 363.2L676.2 363.8L678.6 365.3L680.7 366.7L682.5 366.8L684.4 369.4L686.0 370.9L688.2 371.0L690.4 372.1L693.0 372.2L695.6 373.9L697.4 375.1L699.5 375.3L702.1 376.5L704.0 377.5L706.4 376.7L708.6 377.4L710.9 379.4L713.4 380.2L716.1 379.0L718.7 381.3L720.2 381.7L722.9 381.2L725.8 381.2L727.7 383.0L730.2 382.6L732.8 383.8L734.8 383.0L737.1 384.3L739.0 384.1L741.7 384.8L743.9 386.5L746.3 386.3L748.7 387.1L751.3 387.9L753.8 389.4L755.9 388.6L757.6 390.4L760.6 390.3L762.6 389.5L765.2 389.5L767.2 388.5L769.2 386.1L770.1 385.7L771.7 383.3L771.6 379.4L773.0 378.0L775.0 375.6L776.9 374.3L778.7 374.6L781.5 373.9L783.7 373.3L785.9 372.9L788.8 373.9L790.6 372.5L793.7 373.6L796.0 372.9L798.1 373.1L800.9 373.4L803.1 374.7L805.2 373.8L808.0 374.5L810.1 373.3L812.2 374.2L814.5 372.6L817.4 373.4L820.0 373.0L822.4 372.5L824.3 373.7L826.5 372.9L829.6 373.7L831.5 372.6L834.0 373.8L836.4 372.6L839.2 373.5L841.8 374.2L844.2 373.3L846.5 373.0L848.4 373.3L851.4 374.3L853.1 373.3L855.6 373.4L858.1 373.5L860.3 373.7L863.3 373.6L865.7 373.9L866.9 375.6L868.6 376.8L868.3 379.6L869.0 382.1L869.5 384.6L869.4 385.9L869.2 389.7L868.9 390.7L869.7 394.7L869.2 396.6L869.4 399.2L870.0 400.6L869.7 404.0L870.1 406.4L870.0 408.0L870.7 411.1L870.3 413.2L870.6 415.9L870.9 417.7L870.9 420.6L871.1 423.3L871.2 425.9L871.4 427.8L871.0 430.3L871.4 432.1L871.1 434.0L871.5 438.1L871.2 438.8L871.2 441.7L871.4 445.2L871.3 446.3L871.5 449.4L872.3 450.8L871.8 453.8L872.6 457.1L872.3 457.9L872.7 460.5L873.0 463.8L873.6 465.2L873.5 467.7L873.8 471.1L874.4 473.0L875.4 475.2L875.5 478.3L876.8 479.6L877.2 483.1L878.0 483.8L878.6 487.4L880.6 488.4L881.7 490.6L883.2 493.2L885.6 493.0L887.1 494.5L889.7 496.1L892.3 496.5L894.0 496.4L896.4 497.3L899.3 498.5L901.4 500.0L903.4 499.7L905.6 500.6L907.8 501.2L911.0 501.7L912.6 501.1L915.6 501.1L917.7 502.2L920.6 502.8L922.8 502.6L925.2 503.1L927.7 502.8L929.9 503.4L932.0 504.4L934.0 505.4L936.5 504.7L938.7 505.1L941.4 506.3L943.7 506.6L945.8 506.3L948.6 507.7L951.3 507.4L952.9 507.2L955.9 507.2L958.2 507.9L960.0 509.0L963.2 507.1L965.2 506.4L966.7 505.2L968.1 502.9L969.5 501.6L970.6 498.6L972.2 496.7L973.5 495.0L974.4 492.5L975.7 489.9L976.5 488.0L978.7 487.5L979.9 485.2L982.4 484.1L983.6 481.9L985.6 480.4L988.0 479.1L990.7 478.9L992.5 478.5L995.1 478.2L997.0 476.6L999.4 475.4L1001.7 476.2L1004.7 475.9L1006.7 475.1L1008.4 474.2L1011.1 474.5L1013.3 473.6L1016.0 474.0L1018.7 473.3L1020.4 473.1L1023.5 472.1L1025.3 471.4L1027.4 471.2L1030.5 470.2L1032.6 470.3L1034.4 470.0L1037.2 468.1L1039.0 467.8L1041.9 468.3L1044.0 468.4L1046.4 467.2L1048.6 468.0L1051.0 467.8L1053.8 467.4L1056.0 467.7L1058.0 470.9L1058.9 472.3L1058.8 475.0L1059.3 477.5L1059.5 479.3L1060.3 480.9L1060.1 483.1L1059.7 485.7L1060.7 489.6L1060.4 490.7L1060.5 494.0L1060.2 496.1L1060.8 497.3L1060.2 500.6L1060.3 502.9L1060.9 504.9L1061.0 507.4L1061.1 510.0L1061.3 511.8L1061.4 514.4L1061.8 517.7L1061.4 519.7L1061.7 522.7L1061.9 525.2L1061.8 528.1L1062.2 530.2L1061.9 531.7L1062.2 535.1L1062.4 536.7L1062.4 539.9L1062.5 540.6L1063.0 544.7L1063.2 546.4L1063.4 548.3L1063.4 550.2L1063.1 553.3L1063.7 555.6L1063.6 558.6L1064.3 560.1L1064.6 562.7L1065.0 564.4L1066.2 568.5L1066.6 570.7L1067.1 572.8L1067.8 574.9L1069.1 577.4L1069.9 579.3L1071.3 580.7L1073.7 581.4L1074.8 583.7L1076.8 584.6L1079.3 587.5L1080.9 587.8L1083.3 588.2L1084.9 590.8L1087.4 590.8L1090.4 592.5L1092.2 591.6L1094.4 593.7L1097.3 592.7L1099.6 593.3L1101.6 593.2L1104.4 595.1L1106.2 594.6L1108.5 595.3L1110.8 594.0L1113.8 594.6L1116.4 596.0L1118.6 594.7L1121.0 596.5L1123.1 594.9L1125.3 595.4L1128.2 595.2L1130.1 595.2L1133.0 596.3L1135.1 595.9L1138.0 595.7L1139.7 594.9L1142.8 595.3L1144.5 594.8L1146.6 594.7L1149.0 592.7L1150.8 590.0L1152.1 588.4L1152.7 587.3L1153.4 584.0L1155.1 581.8L1155.6 580.2L1156.6 578.7L1158.6 574.9L1159.7 574.6L1161.6 573.7L1163.9 571.2L1166.3 571.3L1168.4 570.7L1171.2 570.0L1173.3 570.3L1175.8 569.3L1178.4 568.2L1180.6 567.7L1182.8 567.3L1184.9 567.7L1187.6 567.1L1189.3 565.8L1191.6 565.2L1194.2 563.4L1196.5 564.0L1198.8 563.7L1200.7 561.5L1202.8 561.5L1205.5 560.6L1207.7 560.6L1209.8 560.1L1212.6 558.7L1215.1 557.5L1216.8 557.0L1219.0 556.5L1222.0 556.5L1224.0 556.2L1226.1 556.2L1228.6 554.8L1231.0 555.4L1234.0 555.4L1235.7 554.5L1238.4 554.0L1241.4 553.7L1243.3 555.3L1246.1 554.8L1247.4 557.4L1248.3 558.4L1250.0 560.5L1250.0 563.1L1250.4 565.0L1250.2 569.3L1251.1 571.1L1250.6 572.6L1251.0 575.0L1251.0 578.7L1250.9 579.9L1251.6 582.9L1250.7 584.9L1251.4 586.6L1251.1 590.3L1251.7 592.5L1251.9 594.6L1251.5 597.8L1251.6 600.0L1251.6 601.6L1251.6 604.4L1251.7 606.1L1251.9 609.0L1252.1 611.3L1252.9 614.2L1252.9 615.7L1252.5 617.8L1253.0 620.8L1252.7 622.5L1252.7 625.4L1253.1 629.1L1253.5 630.2L1253.3 632.3L1254.0 635.1L1254.0 638.3L1254.3 639.2L1253.8 642.4L1253.8 645.8L1254.2 647.9L1254.5 648.9L1254.6 651.7L1254.4 653.9L1255.2 656.0L1255.1 659.2L1255.6 661.0L1256.1 663.6L1256.4 666.8L1256.1 668.3L1256.6 671.7L1257.1 673.4L1257.9 675.5L1257.7 678.1L1258.1 679.8L1258.5 683.3L1259.7 686.0L1260.9 687.2L1261.5 690.7L1262.0 692.4L1263.6 695.1L1265.1 695.7L1266.3 697.2L1267.9 699.4L1269.6 700.6L1272.2 701.7L1274.4 701.6L1276.9 702.7L1279.0 703.5L1281.5 702.7L1284.0 703.7L1286.2 704.2L1289.1 704.3L1291.5 703.4L1293.6 704.2L1295.7 704.5L1298.0 704.8L1301.0 704.9L1303.1 704.7L1305.2 705.1L1308.4 705.7L1310.2 706.1L1312.5 705.9L1315.4 707.0L1317.5 706.4L1320.5 706.9L1322.6 706.7L1324.7 706.4L1327.0 707.4L1330.0 706.7L1332.4 706.2L1334.0 707.4L1336.6 707.3L1339.7 707.0L1341.3 707.2L1344.1 707.0L1345.8 707.0L1348.3 705.4L1350.4 704.8L1352.1 703.0L1353.7 701.6L1355.5 698.7L1356.3 697.9L1357.8 695.7L1359.8 693.8L1361.7 692.4L1362.5 690.2L1364.5 688.3L1366.1 686.1L1368.3 685.1L1369.7 683.0L1371.7 681.4L1373.8 679.9L1375.4 678.4L1377.4 678.4L1379.4 676.6L1382.2 675.4L1383.7 675.1L1386.5 672.3L1388.1 672.3L1390.9 671.2L1393.1 670.1L1395.3 669.5L1397.3 669.7L1400.1 669.3L1402.2 668.0L1404.7 668.0L1407.2 668.2L1408.9 667.3L1411.8 667.0L1413.8 666.7L1416.6 668.7L1419.3 667.2L1421.5 667.7L1423.8 667.5L1426.5 668.3L1428.0 667.4L1430.4 665.6L1432.9 666.5L1436.0 664.9L1437.7 664.4L1440.3 665.1L1442.5 664.6L1445.3 665.6L1447.2 665.1L1449.2 667.4L1450.5 668.8L1450.6 671.5L1451.0 673.1L1450.5 675.4L1451.4 678.1L1451.2 680.2L1451.3 682.4L1451.9 685.0L1452.2 687.7L1452.0 690.5L1452.4 692.4L1452.3 694.4L1453.4 697.3L1452.8 699.5L1453.4 703.5L1453.3 705.6L1453.8 707.1L1454.4 709.4L1453.9 712.1L1454.7 714.7L1454.6 717.7L1455.4 720.2L1455.3 722.3L1455.8 723.3L1455.4 725.7L1455.7 727.9L1456.2 731.6L1456.4 733.5L1456.4 735.3L1457.6 737.3L1457.5 741.3L1458.1 743.5L1458.0 746.0L1458.7 748.3L1459.2 749.4L1459.6 752.4L1459.7 754.4L1460.4 756.3L1460.5 759.1L1460.8 761.7L1461.6 764.9L1461.8 766.9L1462.4 768.6L1463.5 771.0L1463.3 773.3L1464.7 775.4L1465.4 778.3L1466.1 779.8L1466.4 782.0L1467.6 784.8L1468.3 787.1L1469.8 788.9L1471.1 792.3L1472.0 794.2L1473.5 795.9L1474.7 798.2L1476.6 800.0L1478.2 800.5L1480.5 801.6L1482.0 804.0L1484.7 804.7L1485.9 806.0L1488.8 806.8L1490.6 808.3L1492.8 809.0L1495.0 811.3L1497.4 811.7L1499.3 812.3L1501.2 813.6L1504.1 813.5L1506.4 814.2L1508.4 814.4L1511.0 815.7L1513.2 815.3L1515.6 816.7L1517.9 817.5L1520.6 817.1L1522.5 819.3L1525.1 818.3L1527.5 820.1L1529.5 820.2L1531.6 820.9L1534.4 819.8L1537.1 821.0L1539.5 821.8L1541.8 821.5L1544.4 820.9L1546.6 822.4L1548.4 822.7L1551.0 822.1L1553.8 821.3L1555.6 821.9L1557.7 821.2L1560.7 820.3L1562.3 819.8L1565.0 818.5L1566.6 817.4L1568.9 814.6L1570.6 813.4L1572.5 813.0L1575.6 813.2L1577.1 811.1L1579.7 811.8L1582.3 811.3L1584.0 810.9L1586.5 809.7L1589.5 809.4L1591.2 808.9L1593.8 807.2L1596.1 807.5L1598.8 807.1L1601.1 807.7L1603.1 806.3L1606.0 806.8L1607.8 805.9L1611.1 806.7L1612.9 805.8L1615.9 806.7L1618.0 806.0L1620.0 806.0L1622.3 806.4L1624.9 806.7L1627.3 806.0L1629.8 807.0L1632.1 806.6L1634.3 806.4L1636.8 807.0L1639.2 806.8L1642.0 805.9L1644.6 805.4L1646.8 805.5L1648.9 804.2L1651.2 804.4L1653.7 805.7L1655.9 805.4L1658.5 805.5L1659.9 806.9L1661.5 809.2L1661.7 811.7L1662.5 815.1L1662.5 816.8L1662.3 819.9L1662.5 821.3L1663.1 824.4L1663.7 826.0L1664.4 829.5L1663.9 831.3L1664.6 833.1L1664.9 835.4L1665.4 838.4L1666.0 841.5L1666.3 842.7L1666.4 845.6L1666.6 848.7L1666.2 850.0L1666.8 852.8L1666.9 855.8L1667.1 857.0L1667.4 859.4L1668.2 861.2L1667.9 864.7L1668.7 867.3L1668.6 869.8L1669.3 872.1L1669.0 873.9L1669.2 877.0L1670.4 879.5L1669.7 880.8L1670.5 883.5L1670.3 886.4L1670.8 888.2L1670.9 890.8L1671.2 892.2L1671.9 895.0L1672.4 897.3L1672.4 899.3L1672.5 902.4L1673.2 904.8L1673.8 906.5L1674.1 909.0L1674.6 912.1L1674.4 914.6L1675.2 917.7L1675.1 918.2L1675.2 922.1L1676.2 924.3L1676.0 926.3L1676.3 927.8L1677.0 931.9L1677.8 934.0L1677.7 935.5L1678.2 937.6L1678.7 941.2L1679.5 942.7L1680.4 945.8L1681.3 947.5L1681.4 950.5L1681.9 951.6L1682.9 953.8L1683.2 956.5L1684.1 958.6L1684.8 961.1L1685.3 964.1L1686.3 965.7L1687.7 967.6L1688.5 969.1L1689.9 971.6L1691.3 973.5L1692.9 976.0L1693.6 977.8L1696.0 978.9L1697.2 982.6L1698.6 983.6L1700.3 984.8L1702.3 987.0L1703.8 988.4L1705.8 990.4L1707.3 990.5L1709.5 992.2L1712.1 993.8L1714.2 994.9L1715.8 996.5L1717.8 998.1L1720.8 997.7L1722.5 999.5L1725.3 999.8L1726.9 1000.8L1729.2 1001.1L1732.0 1002.3L1734.4 1001.1L1737.1 1003.0L1739.1 1001.9L1741.6 1003.1L1743.9 1004.6L1746.5 1003.0L1748.8 1004.0L1751.2 1004.0L1753.2 1004.3L1755.3 1004.3L1758.3 1003.8L1760.1 1005.3L1763.0 1004.6L1764.9 1003.3L1767.4 1004.3L1769.8 1003.4L1771.7 1001.4L1774.1 1001.1L1775.8 1000.1L1778.3 997.2L1780.3 996.6L1782.5 996.4L1784.4 994.7L1786.3 993.5L1788.0 992.2L1790.2 990.7L1792.3 989.0L1794.4 987.9L1797.0 987.2L1799.0 986.3L1801.6 984.9L1803.5 984.2L1806.1 982.9L1808.1 981.9L1809.9 982.0L1812.5 980.2L1814.2 980.6L1816.8 979.6L1819.2 978.7L1821.6 978.7L1824.3 977.1L1826.2 976.1L1828.8 975.3L1830.7 976.3L1832.8 975.7L1835.7 975.0L1837.8 973.9L1840.8 974.9L1843.1 973.3L1845.5 973.3L1847.3 973.6L1850.0 972.4L1852.5 972.8L1855.0 972.9L1857.1 971.2L1859.7 971.6L1861.4 972.1L1863.8 972.2L1864.4 973.9L1865.3 976.7L1865.4 979.0L1865.7 981.9L1866.2 983.8L1866.5 986.7L1867.3 988.3L1867.5 992.1L1867.4 993.9L1867.7 996.3L1867.7 999.4L1867.9 1000.5L1867.3 1004.3L1867.6 1006.4L1867.6 1008.1L1867.8 1011.1L1868.4 1013.0L1868.1 1015.1L1867.9 1018.7L1867.9 1021.1L1868.5 1021.7L1868.9 1024.2L1868.7 1026.6L1869.2 1029.4L1869.2 1031.3L1869.1 1033.7L1868.6 1037.1L1869.6 1039.7L1869.6 1042.3L1869.4 1043.3L1869.5 1045.9L1869.6 1048.7L1869.7 1050.8L1870.0 1053.6L1869.9 1055.3L1870.1 1058.7L1870.7 1061.1L1870.0 1062.9L1870.4 1066.1L1871.2 1069.1L1871.4 1071.4L1871.4 1073.8L1870.8 1075.3L1871.5 1078.1L1871.7 1080.3L1872.2 1081.7L1872.0 1085.8L1871.7 1086.5L1872.8 1090.6L1872.2 1091.1L1873.3 1094.8L1873.3 1097.0L1873.8 1099.8L1873.5 1100.7L1874.6 1104.9L1875.1 1106.1L1875.1 1108.3L1875.3 1111.5L1876.0 1113.5L1876.9 1115.3L1877.6 1117.9L1877.9 1121.1L1878.5 1121.9L1879.4 1124.8L1880.9 1126.7L1881.3 1129.5L1882.4 1131.4L1883.6 1134.2L1884.8 1135.0L1886.3 1137.1L1888.1 1139.8L1889.7 1141.4L1890.5 1143.7L1892.3 1144.3L1894.1 1147.6L1895.8 1148.0L1898.1 1150.9L1899.5 1150.7L1901.8 1153.4L1903.3 1154.8L1905.4 1155.0L1907.7 1157.1L1909.8 1158.3L1911.5 1158.7L1914.0 1158.8L1916.7 1160.0L1918.2 1162.4L1921.2 1163.5L1922.8 1164.5L1924.8 1165.0L1927.8 1164.9L1929.2 1166.8L1932.1 1167.8L1934.5 1168.1L1936.1 1168.2L1938.3 1170.6L1940.4 1169.7L1943.0 1170.0L1945.4 1170.7L1947.6 1171.6L1950.4 1171.9L1953.0 1172.0L1955.6 1171.1L1957.2 1170.9L1959.6 1171.6L1962.1 1169.7L1962.8 1167.4L1964.3 1165.2L1965.8 1164.5L1966.8 1161.8L1968.3 1159.4L1968.9 1158.3L1971.1 1154.6L1972.6 1153.6L1974.0 1152.0L1976.4 1152.6L1978.9 1150.9L1981.3 1152.3L1983.9 1151.9L1986.3 1150.9L1988.3 1151.1L1990.7 1151.0L1993.7 1151.2L1995.9 1151.8L1998.2 1151.4L2001.1 1151.9L2003.1 1151.9L2005.5 1151.6L2008.3 1151.5L2010.8 1152.9L2013.1 1151.6L2015.1 1153.4L2017.3 1151.9L2020.1 1152.2L2022.4 1152.2L2025.2 1152.6L2026.7 1153.5L2029.3 1153.2L2031.9 1153.8L2034.3 1152.5L2036.2 1152.5L2038.8 1152.4L2041.6 1152.0L2043.4 1152.0L2046.2 1152.2L2049.1 1151.6L2050.9 1151.6L2053.5 1152.8L2055.3 1155.5L2055.7 1157.9L2056.3 1159.3L2056.6 1162.7L2056.7 1164.2L2056.8 1167.3L2057.2 1168.7L2057.1 1170.8L2058.0 1174.4L2058.2 1177.0L2058.0 1179.2L2058.1 1181.6L2058.2 1182.7L2058.3 1185.4L2057.8 1189.0L2057.6 1190.6L2057.9 1193.6L2058.2 1196.2L2058.5 1198.1L2057.6 1200.5L2057.7 1203.5L2058.5 1204.6L2057.8 1207.8L2058.4 1210.8L2058.2 1211.4L2058.4 1213.7L2058.5 1217.5L2058.5 1220.1L2058.3 1222.7L2058.4 1224.2L2058.2 1226.3L2057.9 1228.3L2058.8 1230.8L2058.7 1234.3L2058.7 1236.2L2058.4 1238.1L2058.3 1241.3L2058.9 1244.3L2058.6 1246.6L2059.2 1247.8L2059.3 1250.8L2059.3 1253.5L2058.8 1254.9L2059.0 1257.7L2058.6 1260.9L2059.2 1262.5L2059.4 1264.5L2059.0 1267.5L2059.1 1269.4L2059.0 1271.3L2059.3 1274.6L2060.0 1277.2L2059.6 1279.2L2059.5 1281.7L2060.3 1283.4L2059.9 1286.9L2060.3 1289.1L2060.3 1292.2L2060.7 1293.3L2060.4 1297.1L2060.5 1297.9L2060.9 1300.1L2060.4 1303.4L2060.6 1306.2L2061.2 1307.8L2061.4 1310.8L2061.5 1312.8L2061.4 1314.5L2061.7 1318.6L2062.3 1319.2L2061.6 1322.0L2062.5 1324.8L2062.1 1327.1L2062.8 1330.2L2062.8 1332.4L2063.3 1334.7L2063.0 1337.3L2063.3 1338.3L2064.0 1340.6L2063.9 1343.8L2064.6 1345.6L2065.6 1349.4L2065.5 1351.2L2065.9 1354.4L2066.2 1355.4L2066.9 1358.8L2067.8 1360.2L2068.4 1363.5L2069.0 1365.5L2070.4 1367.1L2071.1 1369.2L2072.3 1371.1L2073.7 1373.3L2074.8 1376.0L2076.5 1377.2L2078.7 1378.8L2080.1 1381.1L2082.9 1381.9L2084.6 1382.5L2087.2 1382.4L2089.5 1384.3L2091.8 1384.4L2093.9 1385.0L2096.0 1385.8L2098.6 1386.8L2100.8 1386.7L2102.8 1386.6L2105.9 1386.8L2108.1 1387.1L2110.3 1389.1L2112.4 1389.3L2114.7 1389.1L2117.8 1389.9L2119.7 1389.8L2122.4 1390.5L2124.9 1390.4L2126.7 1390.9L2129.4 1390.9L2132.2 1390.3L2134.4 1390.9L2136.8 1392.3L2138.7 1391.8L2141.4 1391.7L2143.4 1392.1L2146.5 1392.3L2148.3 1392.8L2150.8 1391.5L2153.4 1391.9L2155.5 1391.9L2157.2 1390.1L2158.2 1387.7L2159.0 1384.7L2160.7 1383.3L2161.9 1380.5L2162.5 1378.4L2163.9 1375.6L2164.8 1374.7L2165.7 1371.9L2167.5 1371.0L2168.0 1367.4L2169.1 1365.1L2171.1 1364.4L2172.0 1362.0L2173.9 1359.1L2175.5 1358.9L2176.5 1356.8L2178.6 1354.4L2180.6 1352.5L2182.0 1351.2L2184.0 1350.8L2186.2 1349.2L2188.7 1347.3L2190.1 1347.0L2192.2 1346.7L2194.6 1344.7L2196.9 1344.6L2199.6 1343.4L2201.1 1341.9L2204.0 1340.9L2206.4 1341.5L2208.1 1339.8L2210.4 1339.9L2212.5 1339.2L2214.9 1338.9L2217.7 1337.8L2219.6 1336.2L2222.2 1337.5L2224.8 1336.8L2226.6 1334.8L2228.9 1335.5L2231.4 1334.3L2234.3 1334.8L2236.3 1334.1L2238.7 1334.1L2241.1 1333.5L2243.4 1333.2L2245.8 1332.6L2248.3 1333.6L2248.8 1332.7"/>
</g>
<g stroke="#000" stroke-width="1.4" stroke-linejoin="round" stroke-linecap="round">
<polygon fill="#00d8ff" points="1821.8,75.6 1844.2,99.3 1788.5,155.5"/>
<polygon fill="#00d8ff" points="1821.8,75.6 1853.6,89.9 1844.2,99.3"/>
<polygon fill="#00d8ff" points="1844.2,99.3 1853.6,89.9 1803.7,164.0 1788.5,155.5"/>
<polygon fill="#00d8ff" points="1853.6,89.9 1803.7,164.0 1890.5,186.6"/>
<polygon fill="#00ffff" points="1853.6,89.9 1890.5,186.6 1933.5,120.0"/>
<polygon fill="#00d8ff" points="1821.8,75.6 1906.1,106.1 1933.5,120.0 1853.6,89.9"/>
<polygon fill="#00ffff" points="1684.4,175.7 1786.4,158.4 1715.5,190.9"/>
<polygon fill="#00ffff" points="1786.4,158.4 1800.1,167.1 1719.8,192.4 1715.5,190.9"/>
<polygon fill="#00ffff" points="1719.8,192.4 1800.1,167.1 1796.8,254.2"/>
<polygon fill="#00d8ff" points="1719.8,192.4 1796.8,254.2 1708.2,266.1"/>
<polygon fill="#00d8ff" points="1684.4,175.7 1715.5,190.9 1690.0,262.2 1688.8,266.3"/>
<polygon fill="#00d8ff" points="1715.5,190.9 1719.8,192.4 1708.2,266.1 1688.8,266.3"/>
<polygon fill="#00ffff" points="1797.0,247.4 1855.6,268.1 1852.1,274.2 1796.8,254.2"/>
<polygon fill="#00d8ff" points="1860.9,183.0 1874.6,187.3 1890.6,210.5 1890.6,256.7 1855.6,268.1"/>
<polygon fill="#00ffff" points="1855.6,268.1 1890.6,256.7 1890.6,269.0 1855.6,268.1"/>
<polygon fill="#ffee55" points="1880.4,190.2 1890.6,191.0 1890.6,201.0"/>
<polygon fill="#00ffff" points="1924.0,104.6 1996.9,73.7 2006.2,97.6"/>
<polygon fill="#ffffff" points="1996.9,73.7 2001.3,74.5 2011.4,97.1 2006.2,97.6"/>
<polygon fill="#00d8ff" points="1906.1,106.1 2030.9,95.4 1935.0,117.9"/>
<polygon fill="#00d8ff" points="1935.0,117.9 2030.9,95.4 1986.6,189.6"/>
<polygon fill="#00ffff" points="2030.9,95.4 2069.3,167.9 1986.6,189.6"/>
<polygon fill="#00d8ff" points="1928.8,125.3 1935.0,117.9 1986.6,189.6 1969.4,187.0"/>
<polygon fill="#00ffff" points="1894.9,173.1 1956.4,173.1 1953.5,183.3 1894.9,184.3"/>
<polygon fill="#ffee55" points="1894.9,184.3 1965.1,185.6 1965.8,189.9 1895.0,190.9"/>
<polygon fill="#00ffff" points="1890.6,191.0 1986.6,189.6 1948.5,224.9"/>
<polygon fill="#00d8ff" points="1890.6,191.0 1948.5,224.9 1890.6,286.0"/>
<polygon fill="#00d8ff" points="1890.6,286.0 1948.5,224.9 1992.7,285.9"/>
<polygon fill="#00ffff" points="1986.6,189.6 1992.7,285.9 1948.5,224.9"/>
<polygon fill="#00d8ff" points="2050.5,175.7 2055.5,174.3 2063.0,248.7 2053.9,241.8"/>
<polygon fill="#00ffff" points="2055.5,174.3 2070.1,169.8 2067.7,252.3 2063.0,248.7"/>
<polygon fill="#00ffff" points="2066.4,160.5 2129.3,176.2 2133.2,184.7 2070.1,169.8"/>
<polygon fill="#00ffff" points="2070.1,169.8 2162.6,191.6 2082.3,253.1"/>
<polygon fill="#00d8ff" points="2162.6,191.6 2159.0,277.0 2082.3,253.1"/>
<polygon fill="#00d8ff" points="2070.1,169.8 2082.3,253.1 2067.7,252.3"/>
<polygon fill="#00ffff" points="1991.2,262.3 2053.9,241.8 2037.3,270.3 1992.7,285.9"/>
<polygon fill="#00ffff" points="2053.9,241.8 2067.7,252.3 2061.8,261.7 2037.3,270.3"/>
<polygon fill="#ffee55" points="2061.8,261.7 2067.8,255.3 2069.4,259.1"/>
<polygon fill="#00d8ff" points="1631.6,340.4 1686.5,265.9 1661.4,348.5"/>
<polygon fill="#00ffff" points="1686.5,265.9 1700.2,278.2 1663.4,349.8 1661.4,348.5"/>
<polygon fill="#ffffff" points="1686.5,265.9 1705.4,268.8 1700.2,278.2"/>
<polygon fill="#00ffff" points="1705.4,268.8 1763.2,344.8 1659.3,352.2"/>
<polygon fill="#00d8ff" points="1659.3,352.2 1763.2,344.8 1712.2,418.9"/>
<polygon fill="#00d8ff" points="1631.6,340.4 1659.3,352.2 1712.2,418.9 1694.9,413.1"/>
<polygon fill="#00d8ff" points="1758.2,263.7 1782.7,260.4 1756.0,328.1 1743.0,315.1"/>
<polygon fill="#00d8ff" points="1792.2,258.7 1796.8,254.2 1820.4,318.2 1767.6,343.7 1765.4,335.4"/>
<polygon fill="#00d8ff" points="1767.6,343.7 1820.4,318.2 1861.2,379.8"/>
<polygon fill="#00ffff" points="1796.8,254.2 1886.2,286.5 1820.4,318.2"/>
<polygon fill="#00ffff" points="1820.4,318.2 1886.2,286.5 1861.2,379.8"/>
<polygon fill="#00ffff" points="1821.1,368.6 1834.1,373.0 1847.1,399.8 1814.6,436.6 1773.3,446.7"/>
<polygon fill="#00ffff" points="1834.1,373.0 1859.8,383.2 1847.1,399.8"/>
<polygon fill="#00d8ff" points="1859.8,383.2 1869.2,466.2 1799.4,461.9"/>
<polygon fill="#00ffff" points="1773.3,446.7 1814.6,436.6 1808.5,450.0 1789.3,455.4"/>
<polygon fill="#ffee55" points="1789.3,455.4 1808.5,450.0 1796.5,461.5"/>
<polygon fill="#00ffff" points="1864.5,384.5 1934.4,443.9 1869.2,466.2"/>
<polygon fill="#00d8ff" points="1961.5,288.3 1992.7,285.9 2010.9,349.6 2011.9,353.1 1982.7,359.5 1980.3,361.4"/>
<polygon fill="#00d8ff" points="1992.7,285.9 2075.5,322.4 2020.2,382.0"/>
<polygon fill="#00ffff" points="1992.7,285.9 2079.2,255.6 2075.5,322.4"/>
<polygon fill="#00d8ff" points="2075.5,322.4 2109.0,349.2 2020.2,382.0"/>
<polygon fill="#00ffff" points="2079.2,255.6 2083.7,260.1 2109.0,344.8 2109.0,349.2 2075.5,322.4"/>
<polygon fill="#00d8ff" points="2134.4,275.3 2137.3,277.5 2103.0,324.6 2100.5,316.2"/>
<polygon fill="#00ffff" points="2137.3,277.5 2145.9,278.9 2151.4,285.4 2104.3,328.8 2103.0,324.6"/>
<polygon fill="#00ffff" points="2159.0,280.7 2211.0,361.0 2109.0,349.2"/>
<polygon fill="#00d8ff" points="2109.0,349.2 2211.0,361.0 2145.6,425.3"/>
<polygon fill="#00ffff" points="2099.7,352.6 2109.0,349.2 2145.6,425.3 2134.0,412.9"/>
<polygon fill="#00ffff" points="2061.3,440.2 2134.0,412.9 2145.6,425.3 2069.1,459.3"/>
<polygon fill="#00ffff" points="2020.2,382.0 2069.1,459.3 2025.9,467.9"/>
<polygon fill="#00ffff" points="1943.4,441.2 2020.2,382.0 2025.9,467.9"/>
<polygon fill="#00ffff" points="1906.9,416.4 1979.4,363.9 1975.1,409.9 1960.9,424.2 1912.9,421.4"/>
<polygon fill="#00ffff" points="1979.4,363.9 2002.0,393.2 1975.1,409.9"/>
<polygon fill="#00d8ff" points="1912.9,421.4 1960.9,424.2 1939.1,441.0"/>
<polygon fill="#00d8ff" points="1694.9,413.1 1699.6,414.7 1704.2,500.1 1680.8,502.7"/>
<polygon fill="#00ffff" points="1699.6,414.7 1712.2,422.5 1707.4,508.7 1704.2,500.1"/>
<polygon fill="#00ffff" points="1680.8,502.7 1704.2,500.1 1707.4,508.7"/>
<polygon fill="#00ffff" points="1712.2,422.5 1795.0,464.1 1707.4,508.7"/>
<polygon fill="#00d8ff" points="1707.4,508.7 1795.0,464.1 1791.5,540.4 1780.2,539.1"/>
<polygon fill="#00d8ff" points="1802.3,462.1 1869.2,466.2 1880.2,521.5"/>
<polygon fill="#00d8ff" points="1869.2,466.2 1934.4,443.9 1880.2,521.5"/>
<polygon fill="#00ffff" points="1792.2,524.9 1845.7,502.2 1880.2,521.5 1791.5,540.4"/>
<polygon fill="#00d8ff" points="1791.9,530.2 1857.2,508.6 1859.7,510.0 1791.5,540.4"/>
<polygon fill="#00d8ff" points="1791.5,540.4 1880.2,521.5 1848.9,622.3"/>
<polygon fill="#00d8ff" points="1780.2,539.1 1791.5,540.4 1828.3,600.1 1822.5,603.0"/>
<polygon fill="#00ffff" points="1880.2,521.5 1923.8,577.7 1848.9,622.3"/>
<polygon fill="#00ffff" points="2069.1,459.3 2145.6,425.3 2157.5,520.2"/>
<polygon fill="#00d8ff" points="2069.1,459.3 2157.5,520.2 2062.9,540.8"/>
<polygon fill="#00d8ff" points="2044.3,477.4 2069.1,459.3 2062.9,540.8 2047.5,535.6"/>
<polygon fill="#00d8ff" points="1939.1,445.3 2025.9,467.9 1990.4,516.7"/>
<polygon fill="#00d8ff" points="1928.9,455.4 1939.1,445.3 1977.9,506.6 1962.9,499.6"/>
<polygon fill="#00d8ff" points="2025.9,467.9 2069.1,459.3 1990.4,516.7"/>
<polygon fill="#00ffff" points="1990.4,516.7 1995.2,513.2 2047.5,535.6 2062.9,540.8"/>
<polygon fill="#00ffff" points="1991.3,521.2 2062.9,540.8 2011.4,621.8"/>
<polygon fill="#00d8ff" points="1990.4,516.7 2011.4,621.8 1926.9,577.7"/>
<polygon fill="#00d8ff" points="1917.4,564.7 1962.5,503.2 1977.9,506.6 1926.9,577.7"/>
<polyline fill="none" points="1786.4,158.4 1786.4,169.9"/>
<polyline fill="none" points="1800.1,167.1 1890.5,187.0"/>
<polyline fill="none" points="1860.9,183.0 1855.1,268.3"/>
<polyline fill="none" points="1874.6,187.3 1890.5,187.3"/>
<polyline fill="none" points="1852.2,274.1 1889.1,285.7"/>
<polyline fill="none" points="1889.1,190.2 1889.1,285.7"/>
<polyline fill="none" points="1902.9,171.7 1957.9,172.1 1968.0,187.3"/>
<polyline fill="none" points="1894.9,184.4 1965.8,184.7"/>
<polyline fill="none" points="1894.9,190.6 1986.8,190.6"/>
<polyline fill="none" points="1953.5,183.3 1959.3,172.8 1959.3,184.4"/>
<polyline fill="none" points="1986.8,188.8 2050.5,175.7 2067.8,168.5"/>
<polyline fill="none" points="1706.8,268.8 1758.2,263.7"/>
<polyline fill="none" points="1763.2,345.5 1860.9,380.2"/>
<polyline fill="none" points="1713.3,420.7 1795.0,462.7"/>
<polyline fill="none" points="1688.7,265.9 1708.2,265.2"/>
<polyline fill="none" points="2002.7,328.1 1981.0,361.4"/>
<polyline fill="none" points="2066.4,449.6 2132.9,423.6"/>
<polyline fill="none" points="2133.6,413.5 2132.9,423.6"/>
<polyline fill="none" points="2083.7,259.0 2134.4,274.9 2159.0,280.4"/>
<polyline fill="none" points="2023.0,381.6 2096.7,354.9"/>
<polyline fill="none" points="2021.8,381.9 2061.3,440.2"/>
<polyline fill="none" points="1981.0,361.4 2011.4,353.4 2020.1,380.9"/>
<polyline fill="none" points="1904.3,416.4 1934.7,442.4"/>
<polyline fill="none" points="1795.8,464.1 1857.3,506.1"/>
<polyline fill="none" points="2051.9,473.5 2050.5,532.8"/>
<polyline fill="none" points="2057.7,470.6 2062.0,540.1"/>
<polyline fill="none" points="1921.7,570.5 1969.4,505.4"/>
<polyline fill="none" points="1962.2,498.8 1976.7,506.8"/>
<polyline fill="none" points="2134.4,420.0 2134.4,428.7 2145.9,426.5"/>
<line x1="1787.5" y1="264.2" x2="1763.2" y2="327.0" stroke="#000" stroke-width="11.2"/>
<line x1="1787.5" y1="264.2" x2="1763.2" y2="327.0" stroke="#ffff00" stroke-width="8.6"/>
<circle cx="1926.6" cy="350.6" r="11.2" fill="#c6f000" stroke="none"/>
<circle cx="1924.6" cy="348" r="6" fill="#e2ff30" stroke="none"/>
</g>
<rect x="298.0" y="44.5" width="1989.8" height="1471.5" fill="none" stroke="#000" stroke-width="11.5"/>
<g stroke="#000" stroke-width="11">
<line x1="268" x2="298.0" y1="67.6" y2="67.6"/>
<line x1="268" x2="298.0" y1="293.9" y2="293.9"/>
<line x1="268" x2="298.0" y1="520.2" y2="520.2"/>
<line x1="268" x2="298.0" y1="746.5" y2="746.5"/>
<line x1="268" x2="298.0" y1="972.8" y2="972.8"/>
<line x1="268" x2="298.0" y1="1199.1" y2="1199.1"/>
<line x1="268" x2="298.0" y1="1425.4" y2="1425.4"/>
<line x1="284" x2="298.0" y1="180.8" y2="180.8"/>
<line x1="284" x2="298.0" y1="407.0" y2="407.0"/>
<line x1="284" x2="298.0" y1="633.4" y2="633.4"/>
<line x1="284" x2="298.0" y1="859.6" y2="859.6"/>
<line x1="284" x2="298.0" y1="1085.9" y2="1085.9"/>
<line x1="284" x2="298.0" y1="1312.2" y2="1312.2"/>
<line y1="1516.0" y2="1546" x1="305.4" x2="305.4"/>
<line y1="1516.0" y2="1546" x1="599.1" x2="599.1"/>
<line y1="1516.0" y2="1546" x1="892.7" x2="892.7"/>
<line y1="1516.0" y2="1546" x1="1186.4" x2="1186.4"/>
<line y1="1516.0" y2="1546" x1="1480.0" x2="1480.0"/>
<line y1="1516.0" y2="1546" x1="1773.7" x2="1773.7"/>
<line y1="1516.0" y2="1546" x1="2067.4" x2="2067.4"/>
<line y1="1516.0" y2="1531" x1="452.2" x2="452.2"/>
<line y1="1516.0" y2="1531" x1="745.9" x2="745.9"/>
<line y1="1516.0" y2="1531" x1="1039.5" x2="1039.5"/>
<line y1="1516.0" y2="1531" x1="1333.2" x2="1333.2"/>
<line y1="1516.0" y2="1531" x1="1626.9" x2="1626.9"/>
<line y1="1516.0" y2="1531" x1="1920.5" x2="1920.5"/>
<line y1="1516.0" y2="1531" x1="2214.2" x2="2214.2"/>
</g>
<text transform="translate(246.5 86.0) scale(1 1.050)" font-size="62.5" text-anchor="end">0</text>
<text transform="translate(246.5 312.3) scale(1 1.050)" font-size="62.5" text-anchor="end">-50</text>
<text transform="translate(246.5 538.6) scale(1 1.050)" font-size="62.5" text-anchor="end">-100</text>
<text transform="translate(246.5 764.9) scale(1 1.050)" font-size="62.5" text-anchor="end">-150</text>
<text transform="translate(246.5 991.2) scale(1 1.050)" font-size="62.5" text-anchor="end">-200</text>
<text transform="translate(246.5 1217.5) scale(1 1.050)" font-size="62.5" text-anchor="end">-250</text>
<text transform="translate(246.5 1443.8) scale(1 1.050)" font-size="62.5" text-anchor="end">-300</text>
<text transform="translate(295.6 1616.6) scale(1 1.050)" font-size="62.5" text-anchor="middle">0</text>
<text transform="translate(598.0 1616.6) scale(1 1.050)" font-size="62.5" text-anchor="middle">2 000</text>
<text transform="translate(891.3 1616.6) scale(1 1.050)" font-size="62.5" text-anchor="middle">4 000</text>
<text transform="translate(1185.2 1616.6) scale(1 1.050)" font-size="62.5" text-anchor="middle">6 000</text>
<text transform="translate(1479.7 1616.6) scale(1 1.050)" font-size="62.5" text-anchor="middle">8 000</text>
<text transform="translate(1774.2 1616.6) scale(1 1.050)" font-size="62.5" text-anchor="middle">10,000</text>
<text transform="translate(2067.7 1616.6) scale(1 1.050)" font-size="62.5" text-anchor="middle">12,000</text>
<text transform="translate(1293.6 1711.5) scale(1 1.030)" font-size="88.3" text-anchor="middle">Time (s)</text>
<g transform="translate(101.3 0) rotate(-90) scale(1 1.03)" font-size="80"><text class="ser" font-size="73" x="-964" y="0">Δ</text><text x="-915.5" y="0" font-style="italic" textLength="28.5" lengthAdjust="spacingAndGlyphs">f</text><text x="-869.6" y="0">(Hz)</text></g>
<g stroke="#000" stroke-width="8" fill="none">
<path d="M495 790.5 V1353 M482.2 1353 H1291.3"/>
<line x1="482.2" x2="495" y1="1233.1" y2="1233.1"/>
<line x1="482.2" x2="495" y1="1113.2" y2="1113.2"/>
<line x1="482.2" x2="495" y1="993.3" y2="993.3"/>
<line x1="482.2" x2="495" y1="873.4" y2="873.4"/>
<line x1="488.3" x2="495" y1="1293.1" y2="1293.1"/>
<line x1="488.3" x2="495" y1="1173.2" y2="1173.2"/>
<line x1="488.3" x2="495" y1="1053.3" y2="1053.3"/>
<line x1="488.3" x2="495" y1="933.4" y2="933.4"/>
<line x1="488.3" x2="495" y1="813.5" y2="813.5"/>
<line y1="1353" y2="1364.2" x1="538.2" x2="538.2"/>
<line y1="1353" y2="1364.2" x1="714.4" x2="714.4"/>
<line y1="1353" y2="1364.2" x1="890.5" x2="890.5"/>
<line y1="1353" y2="1364.2" x1="1066.7" x2="1066.7"/>
<line y1="1353" y2="1364.2" x1="1242.8" x2="1242.8"/>
<line y1="1353" y2="1359.2" x1="626.3" x2="626.3"/>
<line y1="1353" y2="1359.2" x1="802.4" x2="802.4"/>
<line y1="1353" y2="1359.2" x1="978.6" x2="978.6"/>
<line y1="1353" y2="1359.2" x1="1154.7" x2="1154.7"/>
</g>
<text x="473.8" y="1367.4" font-size="50" text-anchor="end">0</text>
<text x="473.8" y="1247.5" font-size="50" text-anchor="end">15</text>
<text x="473.8" y="1127.6" font-size="50" text-anchor="end">30</text>
<text x="473.8" y="1007.7" font-size="50" text-anchor="end">45</text>
<text x="473.8" y="887.8" font-size="50" text-anchor="end">60</text>
<text x="537.9" y="1410.4" font-size="50" text-anchor="middle">1</text>
<text x="714.1" y="1410.4" font-size="50" text-anchor="middle">2</text>
<text x="890.2" y="1410.4" font-size="50" text-anchor="middle">3</text>
<text x="1066.4" y="1410.4" font-size="50" text-anchor="middle">4</text>
<text x="1242.5" y="1410.4" font-size="50" text-anchor="middle">5</text>
<text x="864.3" y="1467.5" font-size="59.5" text-anchor="middle">number of bilayers</text>
<text transform="translate(423.2 1031.3) rotate(-90)" font-size="55.05" text-anchor="middle">Thickness (nm)</text>
<path d="M538.2 1253.9 L714.4 1158.0 L890.5 1074.8 L1066.7 967.7 L1242.8 861.8" fill="none" stroke="#000" stroke-width="2.4" stroke-dasharray="9.5 13" stroke-dashoffset="-8"/>
<circle cx="538.2" cy="1253.9" r="14.5" fill="#0000a0"/>
<circle cx="714.4" cy="1158.0" r="14.5" fill="#0000a0"/>
<circle cx="890.5" cy="1074.8" r="14.5" fill="#0000a0"/>
<circle cx="1066.7" cy="967.7" r="14.5" fill="#0000a0"/>
<circle cx="1242.8" cy="861.8" r="14.5" fill="#0000a0"/>
<g stroke-width="8" stroke-linecap="round">
<line x1="1459.3" x2="1568.3" y1="1197.9" y2="1197.9" stroke="#0000ff"/>
<line x1="1459.3" x2="1568.3" y1="1268.0" y2="1268.0" stroke="#0000aa"/>
<line x1="1459.3" x2="1568.3" y1="1337.8" y2="1337.8" stroke="#008888"/>
</g>
<g font-size="46.8" letter-spacing="0.6">
<text transform="translate(0 1214) scale(1 1.04)"><tspan x="1581.5" y="0">7</tspan><tspan font-size="32" x="1607.3" y="-22">th</tspan><tspan x="1651.2" y="0">Harmonic</tspan></text>
<text transform="translate(0 1284) scale(1 1.04)"><tspan x="1581.5" y="0">9</tspan><tspan font-size="32" x="1607.3" y="-22">th</tspan><tspan x="1651.2" y="0">Harmonic</tspan></text>
<text transform="translate(0 1354) scale(1 1.04)"><tspan x="1582.6" y="0">11</tspan><tspan font-size="32" x="1634.5" y="-22">th</tspan><tspan x="1678.4" y="0">Harmonic</tspan></text>
</g>
<text class="serb" x="1952.2" y="697" font-size="61" text-anchor="middle">POM anion</text>
<text class="ser" font-size="61.3" y="768.4"><tspan x="1720.9">([NaP</tspan><tspan font-size="39" x="1866.3" y="781.6">5</tspan><tspan x="1888.6" y="768.4">W</tspan><tspan font-size="39" x="1945" y="781.6">30</tspan><tspan x="1985.2" y="768.4">O</tspan><tspan font-size="39" x="2033" y="781.6">110</tspan><tspan x="2086" y="768.4">]</tspan><tspan font-size="39" x="2111.5" y="749.8">14-</tspan><tspan x="2161.8" y="768.4">)</tspan></text>
</svg>
</body></html>
